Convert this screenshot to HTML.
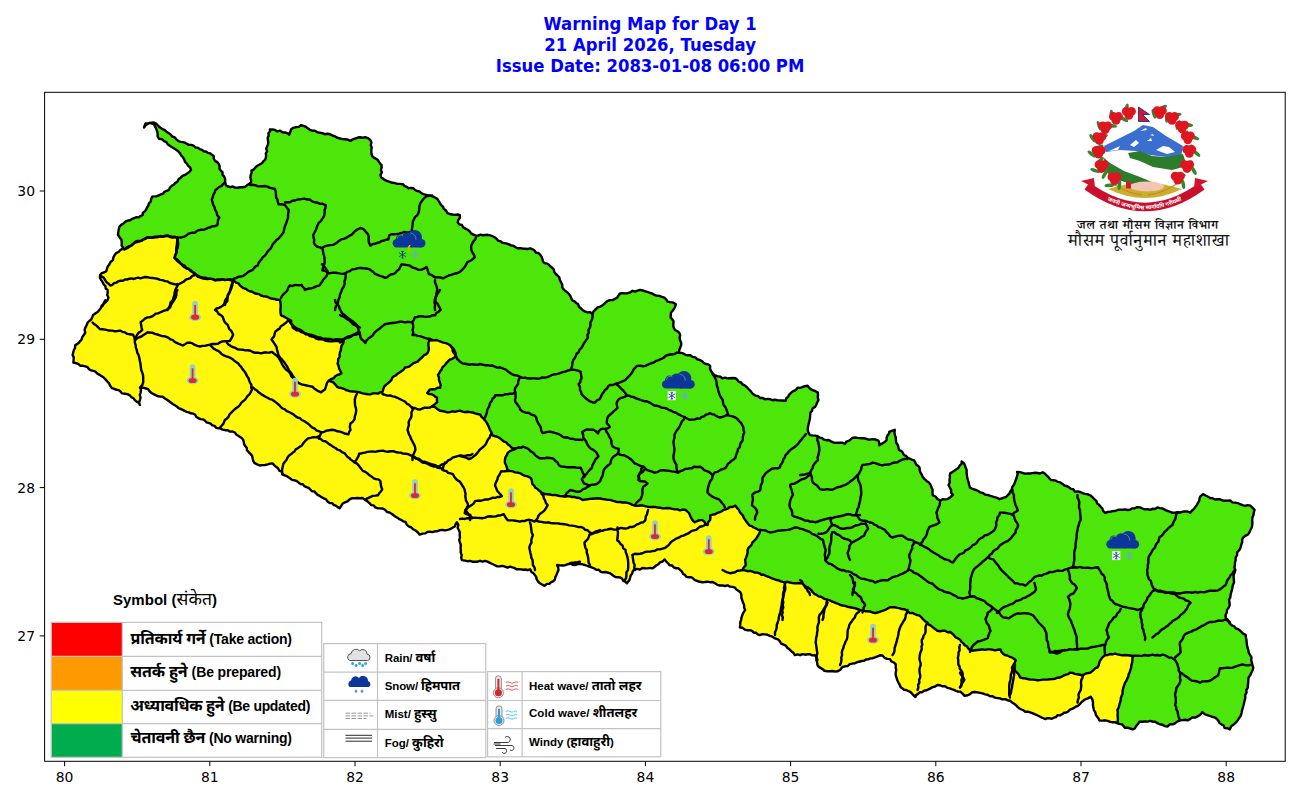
<!DOCTYPE html>
<html><head><meta charset="utf-8">
<style>
html,body{margin:0;padding:0;background:#fff;}
body{width:1300px;height:800px;position:relative;overflow:hidden;}
.ttl{font-family:"DejaVu Sans",sans-serif;font-weight:bold;font-size:16.5px;fill:#0000ff;text-anchor:middle;}
svg{position:absolute;left:0;top:0;}
.tk{font-family:"DejaVu Sans",sans-serif;font-size:13.9px;fill:#000;}
.l1{font-family:"Liberation Sans","Noto Sans Devanagari",sans-serif;font-size:14px;font-weight:bold;fill:#000;}
.l1 .d{font-family:"Noto Sans Devanagari","Liberation Sans",sans-serif;font-size:16px;}
.l2{font-family:"Liberation Sans","Noto Sans Devanagari",sans-serif;font-size:11.5px;font-weight:bold;fill:#000;}
.l2 .d{font-family:"Noto Sans Devanagari","Liberation Sans",sans-serif;font-size:13px;}
.em{font-family:"Noto Serif Devanagari","Tiro Devanagari Hindi","Liberation Serif",serif;fill:#111;}
</style></head>
<body>
<svg width="1300" height="800" viewBox="0 0 1300 800">

<rect x="44.6" y="92.3" width="1240.6" height="669" fill="none" stroke="#000" stroke-width="1"/>
<g class="ttl">
<text transform="translate(650.1,29.75) scale(1,1.08)">Warning Map for Day 1</text>
<text transform="translate(650.1,50.9) scale(1,1.08)">21 April 2026, Tuesday</text>
<text transform="translate(650.1,71.6) scale(1,1.08)">Issue Date: 2083-01-08 06:00 PM</text>
</g>
<line x1="64.6" y1="761.3" x2="64.6" y2="766.2" stroke="#000" stroke-width="1"/>
<text x="64.6" y="782" text-anchor="middle" class="tk">80</text>
<line x1="209.8" y1="761.3" x2="209.8" y2="766.2" stroke="#000" stroke-width="1"/>
<text x="209.8" y="782" text-anchor="middle" class="tk">81</text>
<line x1="355.0" y1="761.3" x2="355.0" y2="766.2" stroke="#000" stroke-width="1"/>
<text x="355.0" y="782" text-anchor="middle" class="tk">82</text>
<line x1="500.2" y1="761.3" x2="500.2" y2="766.2" stroke="#000" stroke-width="1"/>
<text x="500.2" y="782" text-anchor="middle" class="tk">83</text>
<line x1="645.4" y1="761.3" x2="645.4" y2="766.2" stroke="#000" stroke-width="1"/>
<text x="645.4" y="782" text-anchor="middle" class="tk">84</text>
<line x1="790.6" y1="761.3" x2="790.6" y2="766.2" stroke="#000" stroke-width="1"/>
<text x="790.6" y="782" text-anchor="middle" class="tk">85</text>
<line x1="935.8" y1="761.3" x2="935.8" y2="766.2" stroke="#000" stroke-width="1"/>
<text x="935.8" y="782" text-anchor="middle" class="tk">86</text>
<line x1="1081.0" y1="761.3" x2="1081.0" y2="766.2" stroke="#000" stroke-width="1"/>
<text x="1081.0" y="782" text-anchor="middle" class="tk">87</text>
<line x1="1226.2" y1="761.3" x2="1226.2" y2="766.2" stroke="#000" stroke-width="1"/>
<text x="1226.2" y="782" text-anchor="middle" class="tk">88</text>
<line x1="44.6" y1="635.9" x2="39.7" y2="635.9" stroke="#000" stroke-width="1"/>
<text x="35" y="640.9" text-anchor="end" class="tk">27</text>
<line x1="44.6" y1="487.6" x2="39.7" y2="487.6" stroke="#000" stroke-width="1"/>
<text x="35" y="492.6" text-anchor="end" class="tk">28</text>
<line x1="44.6" y1="339.3" x2="39.7" y2="339.3" stroke="#000" stroke-width="1"/>
<text x="35" y="344.3" text-anchor="end" class="tk">29</text>
<line x1="44.6" y1="191.0" x2="39.7" y2="191.0" stroke="#000" stroke-width="1"/>
<text x="35" y="196.0" text-anchor="end" class="tk">30</text>
<polygon points="144.0,127.5 145.5,123.5 150.0,122.0 154.0,122.5 160.0,127.0 166.5,131.5 178.8,140.2 191.0,145.5 201.5,150.8 212.0,154.2 219.0,166.5 224.2,178.8 226.0,185.0 235.0,187.5 245.0,186.0 250.0,182.5 251.0,170.0 260.0,165.0 266.0,160.0 267.5,140.0 270.0,129.0 280.0,131.0 290.0,135.0 291.0,129.0 301.0,125.5 310.0,129.0 322.5,132.5 335.0,136.0 340.0,137.5 350.0,140.0 365.0,137.5 371.0,140.0 372.5,155.0 382.5,165.0 381.0,177.5 390.0,181.0 402.5,185.0 415.0,190.0 427.5,196.0 434.0,196.0 440.0,202.5 447.5,212.5 460.0,215.0 457.5,222.5 467.5,230.0 476.0,235.0 490.0,236.0 502.5,242.5 515.0,247.5 530.0,249.0 540.0,255.0 542.5,262.5 552.5,267.5 560.0,280.0 562.5,287.5 572.5,300.0 582.5,310.0 592.5,314.0 597.5,307.5 605.0,302.5 615.0,299.0 620.0,294.0 632.5,291.0 640.0,290.0 650.0,294.0 662.5,296.0 670.0,302.5 675.0,304.0 671.0,315.0 675.0,330.0 680.0,332.5 681.0,342.5 679.0,352.5 690.0,356.0 700.0,360.0 710.0,366.0 712.5,374.0 722.5,377.5 735.0,379.0 745.0,385.0 752.5,392.5 760.0,397.5 772.5,401.0 785.0,400.0 797.5,387.5 807.5,386.0 817.5,392.5 817.5,402.5 810.0,412.5 807.5,425.0 810.0,435.0 820.0,437.5 832.5,442.5 845.0,444.0 852.5,437.5 865.0,437.5 877.5,441.0 880.0,446.0 886.0,440.0 889.0,431.0 894.0,430.0 896.0,437.5 899.0,450.0 907.5,457.5 915.0,460.0 920.0,470.0 922.5,477.5 930.0,485.0 932.5,492.5 932.5,496.0 940.0,500.0 950.0,497.5 952.5,495.0 949.0,485.0 950.0,472.5 957.5,467.5 962.5,461.0 966.0,467.5 967.5,475.0 970.0,487.5 980.0,492.5 987.5,496.0 1000.0,500.0 1007.5,495.0 1012.5,490.0 1015.0,480.0 1017.5,471.0 1025.0,474.0 1032.5,472.5 1042.5,472.5 1047.5,477.5 1057.5,482.5 1067.5,486.0 1075.0,491.0 1085.0,494.0 1092.5,497.5 1100.0,507.5 1105.0,512.5 1115.0,510.0 1130.0,510.0 1140.0,507.5 1150.0,510.0 1162.5,507.5 1172.5,512.5 1180.0,512.5 1190.0,512.5 1197.5,502.5 1202.5,495.0 1210.0,499.0 1220.0,500.0 1230.0,501.0 1240.0,505.0 1250.0,506.0 1255.0,510.0 1252.5,520.0 1250.0,530.0 1242.5,540.0 1237.5,552.5 1234.0,562.5 1235.0,570.0 1234.0,580.0 1232.5,590.0 1230.0,600.0 1227.5,610.0 1226.0,617.5 1232.5,625.0 1240.0,630.0 1245.0,635.0 1247.5,642.5 1250.0,655.0 1252.5,667.5 1250.0,675.0 1247.5,685.0 1245.0,695.0 1242.5,705.0 1240.0,715.0 1235.0,722.5 1230.0,728.8 1225.0,727.5 1220.0,722.5 1210.0,715.0 1202.5,712.5 1195.0,717.5 1187.5,720.0 1180.0,720.0 1175.0,722.5 1167.5,726.0 1160.0,723.8 1150.0,720.0 1140.0,722.5 1132.5,730.0 1125.0,727.5 1117.5,722.5 1110.0,722.5 1100.0,720.0 1095.0,715.0 1092.5,705.0 1091.0,697.5 1085.0,700.0 1077.5,705.0 1070.0,710.0 1060.0,715.0 1045.0,720.0 1037.5,716.0 1027.5,712.5 1017.5,707.5 1007.5,700.0 997.5,697.5 985.0,695.0 975.0,692.5 965.0,695.0 960.0,692.5 950.0,687.5 940.0,685.0 930.0,687.5 920.0,692.5 915.0,697.5 910.0,692.5 900.0,687.5 897.5,680.0 895.0,665.0 890.0,659.0 882.5,656.0 870.0,657.5 860.0,662.5 850.0,665.0 842.5,667.5 837.5,671.0 825.0,670.0 817.5,665.0 815.0,655.0 805.0,654.0 795.0,655.0 787.5,647.5 777.5,640.0 770.0,635.0 760.0,635.0 750.0,630.0 740.0,627.5 742.5,617.5 745.0,610.0 742.5,602.5 740.0,592.5 735.0,587.5 722.5,585.0 710.0,582.5 695.0,580.0 685.0,575.0 680.0,570.0 670.0,565.0 665.0,560.0 660.0,562.5 652.5,567.5 642.5,569.0 635.0,570.0 630.0,575.0 627.5,582.5 620.0,577.5 605.0,572.5 590.0,567.5 585.0,565.0 570.0,564.0 580.0,562.5 567.5,564.0 557.5,565.0 557.5,572.5 555.0,580.0 545.0,585.0 540.0,582.5 535.0,575.0 530.0,570.0 510.0,567.5 495.0,565.0 490.0,562.5 477.5,561.0 462.5,560.0 460.0,545.0 460.0,535.0 457.5,522.5 455.0,527.5 442.5,530.0 430.0,532.5 420.0,534.0 412.5,530.0 405.0,522.5 395.0,517.5 385.0,510.0 375.0,507.5 367.5,502.5 362.5,499.0 352.5,499.0 345.0,502.5 340.0,507.5 330.0,502.5 320.0,495.0 310.0,490.0 302.5,485.0 292.5,480.0 285.0,475.0 280.0,470.0 272.5,462.5 260.0,465.0 255.0,462.5 247.5,450.0 242.5,437.5 235.0,432.5 222.5,430.0 212.5,425.0 202.5,420.0 195.0,415.0 185.0,410.0 172.5,405.0 162.5,397.5 152.5,392.5 146.0,387.5 140.0,387.5 140.0,395.0 140.0,405.0 135.0,400.0 130.0,395.0 122.5,392.5 112.5,387.5 105.0,380.0 97.5,372.5 87.5,367.5 74.0,362.5 72.5,352.5 75.0,345.0 82.5,340.0 85.0,330.0 87.5,322.5 92.5,317.5 100.0,307.5 105.0,300.0 101.0,307.5 107.5,300.0 107.5,290.0 102.5,282.5 100.0,275.0 104.0,272.5 110.0,265.0 114.0,257.5 120.0,250.0 125.0,249.0 122.5,245.0 119.0,235.0 120.0,227.5 127.5,220.0 142.5,215.0 147.5,205.0 152.5,197.5 165.0,192.5 174.0,185.0 182.5,176.0 191.0,170.0 182.2,157.8 175.2,149.0 166.5,142.0 159.5,138.5 156.0,131.0 153.5,125.0 150.0,123.8 146.0,125.0" fill="#4ce60a" stroke="none"/>
<polygon points="125.0,249.0 135.0,242.5 147.5,237.5 165.0,236.0 177.5,237.5 177.5,245.0 175.0,257.5 182.5,265.0 192.5,272.5 200.0,277.5 215.0,280.0 232.5,280.0 240.0,285.0 247.5,290.6 258.8,294.4 270.0,298.0 279.4,300.0 280.3,307.5 281.2,315.0 290.6,320.6 292.5,328.0 305.6,333.8 318.8,339.4 330.0,341.2 343.0,341.2 339.4,354.4 337.5,363.8 341.2,373.0 330.0,380.6 337.5,386.3 352.5,392.0 371.0,394.7 382.5,392.0 386.0,384.4 395.6,375.0 405.0,367.5 418.0,362.0 427.5,352.5 429.4,341.2 437.0,339.4 446.0,343.0 453.8,349.0 455.6,356.0 447.5,361.0 442.5,367.5 437.5,375.0 440.0,382.5 440.0,387.5 430.0,390.0 427.5,392.5 437.5,397.5 437.5,402.5 432.5,406.0 440.0,410.0 450.0,412.5 460.0,411.0 470.0,412.5 480.0,415.0 485.0,420.0 487.5,425.0 490.0,430.0 492.5,435.0 502.5,440.0 510.0,445.0 515.0,450.0 507.5,452.5 505.0,460.0 507.5,470.0 520.0,474.0 530.0,478.0 535.0,488.0 542.5,493.0 555.0,495.0 567.5,496.0 585.0,500.0 597.5,499.0 610.0,500.0 622.5,502.5 635.0,505.0 647.5,506.0 660.0,507.5 672.5,509.0 685.0,510.0 690.0,515.0 695.0,522.5 702.5,520.0 707.5,525.0 710.0,520.0 710.0,515.0 720.0,512.5 730.0,507.5 735.0,506.0 740.0,512.5 745.0,520.0 750.0,525.0 760.0,530.0 757.5,537.5 752.5,542.5 747.5,550.0 745.0,560.0 745.0,565.0 742.5,570.0 757.5,572.5 770.0,577.5 785.0,582.5 802.5,582.5 812.5,592.5 827.5,600.0 842.5,605.0 855.0,607.5 862.5,610.0 875.0,612.5 890.0,607.5 900.0,607.5 910.0,612.5 920.0,615.0 927.5,622.5 937.5,630.0 950.0,632.5 960.0,640.0 970.0,650.0 982.5,650.0 1000.0,650.0 1005.0,655.0 1015.0,660.0 1012.5,667.5 1020.0,677.5 1030.0,680.0 1045.0,679.0 1060.0,677.5 1070.0,672.5 1082.5,675.0 1090.0,672.5 1097.5,667.5 1102.5,657.5 1105.0,655.0 1115.0,654.0 1125.0,655.0 1132.5,656.0 1130.0,670.0 1125.0,685.0 1120.0,700.0 1117.5,712.5 1117.5,722.5 1110.0,722.5 1100.0,720.0 1095.0,715.0 1092.5,705.0 1091.0,697.5 1085.0,700.0 1077.5,705.0 1070.0,710.0 1060.0,715.0 1045.0,720.0 1037.5,716.0 1027.5,712.5 1017.5,707.5 1007.5,700.0 997.5,697.5 985.0,695.0 975.0,692.5 965.0,695.0 960.0,692.5 950.0,687.5 940.0,685.0 930.0,687.5 920.0,692.5 915.0,697.5 910.0,692.5 900.0,687.5 897.5,680.0 895.0,665.0 890.0,659.0 882.5,656.0 870.0,657.5 860.0,662.5 850.0,665.0 842.5,667.5 837.5,671.0 825.0,670.0 817.5,665.0 815.0,655.0 805.0,654.0 795.0,655.0 787.5,647.5 777.5,640.0 770.0,635.0 760.0,635.0 750.0,630.0 740.0,627.5 742.5,617.5 745.0,610.0 742.5,602.5 740.0,592.5 735.0,587.5 722.5,585.0 710.0,582.5 695.0,580.0 685.0,575.0 680.0,570.0 670.0,565.0 665.0,560.0 660.0,562.5 652.5,567.5 642.5,569.0 635.0,570.0 630.0,575.0 627.5,582.5 620.0,577.5 605.0,572.5 590.0,567.5 585.0,565.0 570.0,564.0 580.0,562.5 567.5,564.0 557.5,565.0 557.5,572.5 555.0,580.0 545.0,585.0 540.0,582.5 535.0,575.0 530.0,570.0 510.0,567.5 495.0,565.0 490.0,562.5 477.5,561.0 462.5,560.0 460.0,545.0 460.0,535.0 457.5,522.5 455.0,527.5 442.5,530.0 430.0,532.5 420.0,534.0 412.5,530.0 405.0,522.5 395.0,517.5 385.0,510.0 375.0,507.5 367.5,502.5 362.5,499.0 352.5,499.0 345.0,502.5 340.0,507.5 330.0,502.5 320.0,495.0 310.0,490.0 302.5,485.0 292.5,480.0 285.0,475.0 280.0,470.0 272.5,462.5 260.0,465.0 255.0,462.5 247.5,450.0 242.5,437.5 235.0,432.5 222.5,430.0 212.5,425.0 202.5,420.0 195.0,415.0 185.0,410.0 172.5,405.0 162.5,397.5 152.5,392.5 146.0,387.5 140.0,387.5 140.0,395.0 140.0,405.0 135.0,400.0 130.0,395.0 122.5,392.5 112.5,387.5 105.0,380.0 97.5,372.5 87.5,367.5 74.0,362.5 72.5,352.5 75.0,345.0 82.5,340.0 85.0,330.0 87.5,322.5 92.5,317.5 100.0,307.5 105.0,300.0 101.0,307.5 107.5,300.0 107.5,290.0 102.5,282.5 100.0,275.0 104.0,272.5 110.0,265.0 114.0,257.5 120.0,250.0" fill="#fff70c" stroke="none"/>
<g fill="none" stroke="#000" stroke-width="2.4" stroke-linejoin="round" stroke-linecap="round">
<polyline points="225.0,182.5 223.1,184.1 221.4,186.1 219.0,187.0 217.2,188.7 215.3,190.1 214.6,192.7 213.2,195.1 212.6,197.7 211.7,199.7 212.6,202.3 213.2,204.9 214.6,207.3 215.2,209.9 216.7,212.3 217.2,215.2 219.3,217.6 218.0,219.9 217.8,222.5 217.5,224.9 215.1,226.1 212.5,226.2 210.1,227.3 207.7,227.9 205.7,229.0 203.6,229.9 201.1,229.7 198.9,230.1 196.8,231.0 195.1,232.8 192.7,232.7 190.5,233.2 188.3,233.9 186.4,235.4 184.5,236.6 182.3,237.2 180.0,237.5"/>
<polyline points="125.0,249.0 127.3,248.2 129.2,246.8 131.3,245.6 133.0,243.7 135.0,242.5 137.2,242.0 139.4,241.4 141.5,240.7 143.4,239.2 145.6,238.9 147.5,237.4 150.0,237.7 152.5,237.4 155.0,236.6 157.5,236.6 160.0,236.4 162.6,236.9 165.0,235.7 167.6,235.6 170.0,237.0 172.4,237.6 175.0,237.1 178.0,237.5 177.7,240.0 178.1,242.5 178.1,245.1 177.7,247.6 176.7,250.0 176.7,252.6 175.2,254.9 174.5,258.0 176.3,259.9 178.2,261.8 180.4,263.3 182.2,265.3 184.1,267.0 186.3,268.3 188.8,269.1 190.5,270.9 192.7,272.2 194.4,273.7 196.3,274.9 197.8,276.8 200.0,277.4 202.4,278.3 204.9,278.8 207.4,279.1 210.1,278.7 212.6,278.9 215.0,280.3 217.5,279.8 220.0,279.4 222.5,279.3 225.0,279.7 227.5,279.9 230.0,279.2 232.5,280.0"/>
<polyline points="232.5,280.0 234.3,278.5 236.5,277.9 238.5,276.8 240.7,276.5 243.0,276.1 244.7,274.7 246.6,273.4 248.4,271.9 250.5,270.9 252.6,269.9 254.1,268.1 255.6,266.3 257.9,265.3 258.6,262.9 260.0,261.1 261.4,259.4 262.6,257.4 264.5,256.0 266.0,254.3 267.2,252.3 268.7,250.3 270.6,248.6 271.8,246.4 272.9,244.1 274.7,242.2 276.4,240.1 278.6,238.6 280.2,236.5 281.8,234.8 283.4,232.5 284.0,229.9 284.6,227.4 285.5,225.0 286.4,222.5 287.2,220.1 288.1,217.6 288.0,215.0 288.4,212.5 288.8,210.2 286.9,207.6 285.0,205.0 282.0,204.3 278.5,204.2 277.8,201.9 277.5,199.5 276.1,197.5 276.0,195.0 275.8,192.0 275.0,189.0 272.5,188.3 269.9,187.9 267.5,186.6 265.0,186.0 262.5,186.2 260.0,186.4 257.5,186.2 255.0,185.1 252.5,184.8 250.0,185.0"/>
<polyline points="285.0,202.5 287.5,202.2 290.1,202.2 292.4,200.7 295.0,200.5 297.5,199.5 300.0,199.4 302.4,198.9 305.0,198.8 307.5,199.5 309.7,199.4 312.1,201.4 315.0,202.3 317.6,202.7 320.0,203.9 322.6,203.8 325.7,205.1 325.5,207.6 324.6,210.0 324.7,212.5 324.3,215.2 323.3,217.4 322.0,219.4 320.6,221.3 318.7,222.9 317.7,225.1 316.8,227.2 316.2,229.3 315.2,231.3 314.2,233.3 313.2,234.8 313.6,237.4 314.2,239.9 313.9,242.6 315.0,244.9 317.3,246.8 320.2,247.4 322.6,249.0 323.0,251.2 323.3,253.5 324.0,255.6 324.5,257.8 324.6,259.9 324.7,262.6 323.9,265.0 323.1,267.5 322.3,270.4 324.9,270.8 327.0,272.0"/>
<polyline points="100.0,275.0 101.8,276.6 103.9,277.8 105.1,279.9 106.3,282.0 108.3,283.4 110.2,285.5 112.3,284.8 114.1,283.1 116.3,282.6 118.3,281.4 120.5,280.7 122.9,280.8 124.9,279.5 127.2,279.5 129.4,278.7 131.6,278.4 133.9,279.0 136.0,278.1 138.2,277.6 140.6,278.3 142.8,277.6 145.1,277.0 147.6,277.2 150.1,277.9 152.6,278.0 155.1,278.4 157.6,278.8 160.0,279.9 162.6,280.1 165.0,281.1 167.6,281.4 169.9,283.0 172.4,283.7 174.9,284.2 177.8,284.7 179.9,283.6 182.0,282.5 184.1,281.4 185.8,279.6 188.1,278.9 190.3,278.1 192.3,275.9 195.0,275.0"/>
<polyline points="177.5,284.0 177.3,286.3 176.1,288.2 175.1,290.2 174.7,292.4 174.3,295.1 173.5,297.7 172.7,300.3 170.7,302.4 170.0,305.1 169.0,307.6 167.5,310.0"/>
<polyline points="232.5,282.5 231.6,284.9 230.9,287.4 230.3,289.9 229.6,292.4 228.5,294.3 227.6,296.4 227.5,298.8 227.3,301.1 225.6,302.8 225.0,305.0"/>
<polyline points="435.0,280.0 435.0,282.6 436.1,285.0 436.9,287.5 437.3,289.9 436.6,292.5 436.3,295.2 435.5,297.7 434.7,299.9 434.5,302.5 435.1,304.9 434.8,307.5 435.0,310.0"/>
<polyline points="817.5,437.5 817.3,440.1 818.3,442.5 818.8,445.0 819.2,447.6 819.4,449.8 818.9,452.4 818.4,454.9 817.6,457.4 817.9,460.2 815.9,461.9 814.4,463.8 813.1,465.9 812.5,468.4 811.1,470.3 810.1,473.1 807.6,473.6 805.2,474.4 802.6,474.7 800.0,475.0"/>
<polyline points="810.0,472.5 811.0,474.9 812.0,477.3 811.9,480.0 812.7,482.2 814.5,484.0 816.7,485.2 818.3,487.1 820.0,489.2 822.5,489.8 825.0,489.5 827.5,489.1 830.0,489.7 832.4,489.7 834.4,488.7 836.4,487.7 838.5,487.0 840.8,486.6 842.9,485.7 845.1,485.1 847.0,483.9 849.0,482.7 850.7,481.1 852.6,479.9 854.3,478.3 855.9,476.7 857.9,475.2 859.2,473.3 860.2,471.3 861.2,469.3 861.6,467.0 862.5,464.9 865.1,464.6 867.6,464.2 870.2,463.9 872.5,462.6 875.1,463.1 877.6,464.0 880.1,464.8 882.3,465.3 884.8,464.7 887.5,464.5 890.1,464.2 892.4,463.0 895.0,462.5 897.6,462.2 899.9,460.8 902.3,459.7 904.8,459.0 907.5,459.0"/>
<polyline points="857.5,475.0 857.9,477.6 858.2,480.2 859.4,482.6 860.4,485.0 860.9,487.5 861.0,490.0 861.3,492.6 861.1,495.1 860.5,497.5 860.2,500.1 859.7,502.4 859.0,504.8 858.7,507.2 857.3,509.3 856.9,511.7 855.9,514.1 857.8,516.6 859.8,519.7 862.3,520.6 865.0,520.7 867.5,521.5 870.0,522.5"/>
<polyline points="870.0,522.5 872.5,522.9 874.3,524.6 876.6,525.3 878.4,527.2 880.8,527.7 882.9,528.9 885.0,530.0 886.5,532.2 888.5,534.0 890.1,536.2 892.5,537.7 894.9,536.6 897.4,536.0 899.9,535.6 902.6,535.7 904.4,537.1 906.3,538.4 908.2,539.6 910.6,539.8 912.9,540.3 915.1,542.2 917.9,543.0 920.3,544.3 922.6,545.8 925.0,547.1 927.4,548.2 929.5,549.6 931.5,551.3 933.8,552.7 936.1,554.0 938.5,555.2 940.3,556.8 942.3,557.7 944.2,559.0 946.4,559.6 948.6,560.1 950.5,561.5 952.6,562.6 954.4,560.7 955.9,558.4 957.6,556.4 959.5,554.4 961.9,553.7 964.0,552.7 965.2,550.5 967.5,549.7 969.4,548.4 971.2,547.0 972.6,545.1 974.7,544.3 976.5,543.0 977.8,541.1 979.2,539.3 981.1,538.1 983.1,537.1 984.6,535.4 987.1,535.0 989.2,533.9 991.1,532.6 993.1,531.3 994.5,529.9 995.6,527.5 996.4,525.1 996.0,522.4 997.2,520.0 997.4,517.4 999.3,515.3 1000.0,512.6 1002.6,512.6 1005.1,512.8 1007.6,513.4 1010.1,513.8 1013.2,514.7 1014.1,516.7 1014.7,518.9 1015.6,521.0 1017.0,522.7 1018.2,525.2 1017.4,527.7 1015.8,530.0 1015.5,532.8 1013.8,534.4 1012.4,536.2 1011.1,538.0 1009.7,539.3 1008.0,541.0 1005.9,541.7 1003.9,542.8 1002.0,544.1 1000.1,545.1 998.7,547.1 997.2,548.9 994.9,549.9 993.1,551.5 991.9,553.6 989.8,554.8 988.6,556.9 986.6,558.3 985.0,560.0"/>
<polyline points="920.0,545.0 921.2,543.1 922.7,541.4 923.5,539.2 925.1,537.6 926.2,535.6 927.0,533.5 927.4,531.2 928.4,529.2 929.6,526.8 932.0,525.9 934.6,525.2 937.0,524.2 939.5,522.4 938.4,520.0 937.3,517.6 937.1,514.9 936.4,512.7 937.4,510.2 938.3,507.6 939.6,505.2 940.0,502.5"/>
<polyline points="985.0,560.0 982.9,561.4 981.2,563.2 979.2,564.8 977.3,566.4 975.5,567.7 973.9,569.5 972.9,571.5 972.1,573.6 971.5,575.8 970.8,577.9 970.6,580.0 970.3,582.5 970.1,585.0 970.3,587.5 970.1,590.0 969.3,592.5 970.0,595.0"/>
<polyline points="1012.5,490.0 1012.5,492.7 1014.0,494.9 1013.9,497.6 1014.3,500.2 1014.9,502.7 1015.5,505.2 1016.8,507.5 1017.9,510.4 1015.9,511.7 1013.8,513.0 1012.5,515.0"/>
<polyline points="850.0,575.0 851.5,576.7 852.7,578.7 852.9,581.0 853.4,583.3 855.0,585.0 853.9,587.4 853.8,590.0 852.6,592.4 852.5,595.0"/>
<polyline points="800.0,580.0 801.9,581.5 802.7,583.6 804.2,585.3 805.1,587.4 806.9,589.0 807.7,591.1 809.3,592.7 810.0,595.0"/>
<polyline points="92.5,322.5 94.4,324.3 96.7,325.8 98.5,327.7 100.0,329.2 102.5,329.3 105.0,329.6 107.5,330.2 110.0,330.5 112.5,330.6 115.0,331.3 117.5,331.0 120.1,330.6 122.5,331.8 125.1,332.4 127.3,333.9 130.0,334.3 133.1,334.7 134.3,337.2 135.0,340.0"/>
<polyline points="135.0,340.0 134.8,342.6 135.7,345.1 135.8,347.6 136.8,350.0 137.2,352.6 138.5,354.9 139.2,357.4 139.7,359.9 140.2,362.4 140.6,364.8 140.9,367.4 141.2,370.0 142.2,372.4 143.0,375.0 143.2,377.5 143.2,380.0 143.2,382.5 142.4,384.9 140.0,387.5"/>
<polyline points="135.0,340.0 135.8,337.3 137.2,334.7 138.6,332.8 140.6,331.4 142.2,330.1 141.6,327.6 141.1,325.1 140.7,322.1 142.9,320.5 144.9,318.6 147.5,317.4 149.8,317.2 151.9,316.5 153.9,315.3 155.6,313.6 158.0,313.4 160.0,312.5 162.0,311.6 164.1,310.7 166.3,310.1 168.2,308.8 170.1,307.6 170.8,305.3 171.9,303.3 173.1,301.5 174.3,299.8 175.7,297.5 176.4,295.0 176.3,292.3 177.5,290.0"/>
<polyline points="135.0,340.0 136.9,338.5 139.0,337.3 141.4,336.5 143.4,335.1 145.5,333.8 147.6,332.2 150.1,332.6 152.6,332.8 155.0,333.9 157.5,334.5 159.9,335.3 162.0,336.1 164.3,336.2 166.5,336.9 168.6,337.8 170.4,339.3 172.6,339.8 174.2,341.5 176.2,342.7 178.2,343.6 180.3,344.4 182.7,345.5 185.0,344.2 187.3,342.8 189.9,342.7 192.5,343.4 194.8,344.9 197.3,345.8 200.1,346.5 202.5,345.9 205.0,345.9 207.5,345.1 209.9,344.7 212.4,343.9 215.1,344.0 217.7,343.9 220.0,342.3 222.4,341.4 224.9,341.1 227.5,341.3 229.9,340.9 231.5,338.1 233.2,334.7 232.2,332.7 231.1,330.7 229.3,329.1 228.5,327.0 227.7,324.9 226.0,323.3 224.4,321.7 223.6,319.5 222.9,317.1 221.0,315.2 218.6,313.9 217.2,311.5 215.0,310.0 216.7,308.5 218.9,307.8 221.0,306.8 223.1,305.4 224.4,303.5 224.9,301.2 225.9,299.1 227.4,297.5 227.9,294.8 229.4,292.6 230.5,290.2 231.5,287.7 232.4,285.2 232.5,282.5"/>
<polyline points="210.0,345.0 211.8,346.7 213.6,348.6 215.7,349.8 218.2,350.8 220.1,352.4 221.8,354.3 223.9,355.4 226.2,356.3 228.6,357.0 230.8,358.1 232.9,359.4 234.5,361.0 236.5,362.2 238.3,363.5 239.6,365.3 241.2,366.9 242.3,368.9 243.8,370.6 245.2,372.4 246.2,374.4 247.2,376.4 248.6,378.2 249.1,380.4 250.0,382.5 251.4,384.8 251.3,387.6 251.9,389.6 250.9,391.9 249.6,394.1 247.7,395.8 246.3,397.9 244.9,399.9 243.0,401.3 241.2,402.9 240.0,405.0 238.3,406.7 236.3,408.0 234.5,409.5 232.8,411.1 231.1,412.8 229.5,414.5 228.5,416.9 226.9,418.6 224.9,419.9 224.0,422.1 223.1,424.2 221.5,425.8 220.0,427.5"/>
<polyline points="290.0,322.5 291.8,324.3 293.6,326.1 295.6,327.6 297.8,328.8 300.2,329.6 302.0,331.0 303.7,332.5 305.8,333.3 307.9,334.3 310.1,334.6 312.6,335.1 315.0,336.1 317.4,337.2 320.0,337.4 322.4,338.4 324.9,338.7 327.5,339.0 330.0,338.9 332.5,339.7 334.9,339.5 337.4,339.1 340.1,339.4 342.6,339.2 345.1,338.7 347.6,337.6 349.8,337.3 351.8,336.1 353.6,334.7 356.0,334.6 358.2,334.0 360.0,332.5"/>
<polyline points="335.0,300.0 335.6,302.4 337.3,304.3 339.0,306.1 339.6,308.6 340.8,310.7 342.0,313.1 343.8,314.5 345.6,315.9 347.4,317.4 349.2,318.8 351.0,320.2 352.9,321.5 354.5,323.0 356.4,324.4 357.8,326.4 360.0,327.5"/>
<polyline points="382.5,394.0 385.0,394.8 387.4,395.6 390.2,395.5 392.7,396.3 395.3,396.9 397.3,397.8 399.3,398.8 401.3,399.8 403.3,400.8 405.4,401.9 406.9,403.8 409.0,404.7 410.6,406.3 412.3,408.2 415.1,408.0 417.5,409.3 419.9,409.6 422.3,408.5 424.8,407.7 427.6,407.8 430.2,407.5 432.5,406.0"/>
<polyline points="412.5,407.5 412.6,410.1 411.4,412.5 411.6,415.1 411.0,417.6 409.6,419.9 408.6,422.3 408.9,425.0 408.1,427.5 407.6,430.0 408.3,432.1 408.9,434.3 410.1,436.2 410.8,438.3 411.8,440.2 413.0,442.5 414.3,444.9 415.1,447.3 415.4,450.1 414.3,452.5 413.2,454.9 412.5,457.3 412.5,460.0"/>
<polyline points="445.0,462.5 443.9,464.9 443.1,467.4 442.5,470.0"/>
<polyline points="340.0,315.0 341.9,316.2 344.0,317.0 345.9,318.2 347.7,319.6 349.5,320.5 351.3,322.4 353.2,324.3 355.8,325.4 357.9,327.4 358.4,329.9 359.2,332.4 360.1,334.8 360.4,337.1 361.5,339.3 363.5,340.7 365.4,342.9 366.6,340.3 368.5,338.5 370.7,337.0 372.8,335.4 374.0,333.2 375.6,331.6 377.4,330.1 379.3,328.9 381.0,327.3 382.8,325.9 384.9,324.3 387.4,323.8 389.9,323.3 392.4,323.0 395.0,322.8 397.5,322.2 400.0,321.8 402.5,321.8 405.0,322.4 407.5,321.8 410.0,322.1 411.8,322.2 413.8,320.0 414.9,317.1 417.2,317.0 419.4,316.2 421.6,316.3 423.9,316.6 426.2,316.9 428.4,316.6 430.6,316.3 432.8,315.1 435.3,315.3 436.3,313.0 438.5,311.9 440.7,309.7 439.7,307.7 438.5,305.7 437.6,303.7 435.8,302.1 435.4,300.2 435.6,297.8 436.5,295.7 437.4,293.7 438.9,292.0 440.0,290.0"/>
<polyline points="357.5,332.5 355.6,333.6 353.6,334.7 351.6,335.6 349.4,336.2 347.1,336.9 345.2,338.1 343.7,339.9 342.2,341.7 340.0,342.5"/>
<polyline points="412.5,322.5 413.1,325.0 413.2,327.5 412.6,330.0 413.2,332.5 412.5,335.0 415.1,334.8 417.5,335.9 420.1,336.1 422.5,337.0 424.9,337.9 427.4,338.7 430.1,338.8 432.5,340.0"/>
<polyline points="450.0,345.0 451.6,346.7 452.5,348.7 452.7,351.1 453.9,353.0 455.2,354.8 456.4,356.8 457.2,359.0 458.9,360.5 460.2,361.8 462.4,363.4 465.0,363.8 467.5,364.3 470.0,364.7 472.4,364.2 475.0,364.7 477.6,364.8 480.0,364.0 482.5,364.6 484.9,365.2 487.5,365.1 489.8,365.7 492.5,365.5 494.9,366.7 497.3,367.6 500.0,367.5 502.1,368.2 504.2,369.0 506.3,369.8 508.0,371.5 509.9,372.8 511.7,374.0 513.8,375.0 516.0,375.4 518.3,375.9 520.1,376.8 522.5,377.9 525.1,377.6 527.5,378.3 530.0,378.5 532.5,378.4 535.0,378.4 537.5,378.8 539.8,378.4 542.3,377.5 545.0,377.6 547.6,377.1 550.0,376.0 552.4,374.8 555.0,374.2 557.7,373.9 560.2,373.2 562.6,372.2 565.1,371.6 567.5,370.6 570.0,370.0"/>
<polyline points="520.0,377.5 518.9,379.5 518.1,381.6 518.1,384.0 516.7,385.9 515.4,387.7 514.7,390.0 515.4,392.5 515.5,395.0 515.7,397.5 514.9,400.0 515.6,402.2 517.1,404.0 518.3,405.8 519.7,407.7 520.2,409.5 522.0,411.1 524.1,412.0 526.2,412.9 528.6,412.8 530.5,414.1 532.6,415.0 534.3,415.3 536.0,417.0 536.5,419.2 537.3,421.3 538.3,423.3 539.5,425.2 540.8,427.5 541.1,430.2 542.5,433.0 545.0,432.5 547.5,431.9 550.0,431.8 552.6,432.2 554.8,432.9 556.9,433.5 559.0,434.3 561.0,435.4 562.8,436.9 565.0,437.6 567.3,437.3 569.3,438.3 571.5,438.8 573.7,439.0 575.8,439.8 578.1,439.6 580.3,439.7 582.5,440.0"/>
<polyline points="515.0,392.5 512.7,393.8 510.0,393.8 507.5,394.2 505.0,394.3 502.5,395.3 500.0,395.3 497.5,395.3 495.2,395.2 494.4,397.3 492.5,398.7 491.8,401.0 490.2,402.6 489.5,405.1 488.6,407.6 487.2,409.9 486.9,412.6 486.0,415.0 485.0,417.5"/>
<polyline points="530.0,522.5 530.8,524.9 531.0,527.5 531.4,530.0 531.7,532.6 532.9,535.1 532.0,537.5 531.3,540.0 531.5,542.6 530.1,544.9 529.3,547.6 529.8,550.1 530.3,552.6 531.0,555.1 531.3,557.6 532.5,560.0 532.8,562.6 533.0,565.2 534.5,567.5 535.0,570.0"/>
<polyline points="600.0,530.0 597.9,530.8 595.7,531.3 594.0,533.1 592.0,534.0 589.5,534.7 588.8,536.9 587.9,539.0 586.2,540.6 584.5,542.6 584.8,545.1 585.3,547.6 586.8,549.9 586.7,552.6 587.6,555.0 588.1,557.5 588.4,560.1 588.6,562.7 590.0,565.0"/>
<polyline points="617.5,527.5 617.4,530.0 618.0,532.5 617.8,535.0 617.6,537.5 617.2,540.2 619.2,541.8 620.6,544.0 622.6,545.6 623.2,548.2 625.5,549.9 625.8,552.4 626.8,554.9 627.5,557.3 628.0,560.0 628.2,562.5 628.2,565.0 628.2,567.5 627.9,570.1 626.4,572.4 626.4,575.0 626.2,577.6 625.0,580.0"/>
<polyline points="632.5,555.0 634.8,553.7 637.6,554.0 640.1,553.7 642.6,553.2 645.0,552.0 647.5,551.6 650.0,551.6 652.5,551.1 655.1,550.7 657.4,549.4 660.1,549.4 662.6,548.6 665.2,547.8 667.2,546.3 669.1,544.6 670.6,542.5 672.5,540.9 674.8,539.5 676.8,538.3 679.1,537.5 681.1,536.2 683.5,535.6 685.6,534.5 687.9,533.7 689.9,532.2 691.7,530.9 693.9,530.4 696.2,529.9 697.9,528.3 699.7,526.8 702.5,526.3 705.0,525.0"/>
<polyline points="632.5,555.0 632.8,557.6 633.2,560.1 633.6,562.7 634.7,565.0 634.2,567.5 635.0,570.0"/>
<polyline points="722.5,570.0 724.9,571.3 727.3,572.3 730.1,573.2 732.6,572.7 735.1,572.2 737.4,570.7 740.0,570.5 742.5,570.0"/>
<polyline points="785.0,582.5 784.8,585.0 785.3,587.6 785.1,590.1 784.1,592.5 783.8,595.0 783.0,597.4 782.8,599.9 783.3,602.5 782.7,605.0 783.3,607.6 782.2,610.0 782.7,612.5 781.9,615.0 782.8,617.5 782.5,620.0"/>
<polyline points="827.5,600.0 826.5,602.4 826.6,605.1 825.3,607.4 824.4,609.8 824.0,612.4 823.5,614.9 823.4,617.6 822.5,620.0"/>
<polyline points="727.5,415.0 730.1,415.8 732.7,416.4 735.3,417.6 737.5,419.1 739.2,421.1 741.1,422.9 742.3,425.3 743.4,427.6 743.6,430.3 744.3,432.2 743.5,434.3 742.9,436.5 742.8,438.9 742.3,441.1 740.7,442.9 740.1,445.1 739.7,447.3 738.0,449.0 737.7,451.3 736.7,453.3 736.0,455.5 735.4,457.9 733.7,459.5 731.6,460.7 729.9,462.4 727.9,463.7 726.9,466.1 725.3,468.2 723.2,469.0 721.0,469.6 719.1,470.7 717.2,471.9 714.8,472.4 713.4,474.2 712.5,476.2 712.2,478.6 710.8,480.4 709.7,482.4 708.9,484.9 708.1,487.3 707.7,489.9 707.5,492.6 709.1,494.2 710.8,495.6 712.7,496.9 714.8,497.8 717.0,498.6 719.1,499.5 720.7,501.2 721.9,502.8 723.8,505.0 725.0,507.5"/>
<polyline points="806.0,434.0 804.4,436.0 802.6,438.0 801.1,440.1 799.5,441.9 798.1,443.9 796.5,445.6 794.6,446.9 792.5,448.4 790.5,449.9 788.7,451.6 787.1,453.7 785.5,455.2 784.8,457.4 783.3,459.2 782.9,461.4 781.8,463.4 780.3,465.2 780.0,467.3 777.6,468.4 774.9,468.3 772.3,468.6 770.1,470.1 767.8,471.6 765.7,473.2 764.2,475.5 762.6,477.5 762.5,480.1 762.2,482.6 761.0,485.0 760.6,487.5 760.2,490.3 758.3,491.6 756.0,492.2 754.0,493.1 752.2,495.0 752.7,497.5 753.0,500.0 752.3,502.5 751.9,505.4 753.8,506.8 755.5,508.4 756.7,510.3 757.3,512.4 756.1,514.8 755.1,517.3 755.0,520.0"/>
<polyline points="810.0,475.0 808.1,476.1 806.3,477.7 804.3,478.7 802.1,479.1 800.1,480.2 798.3,481.6 796.3,482.6 794.3,483.7 792.0,483.9 790.1,485.0 790.6,487.5 791.7,489.9 792.1,492.4 793.0,495.1 791.5,497.4 790.5,499.8 789.9,502.3 789.5,505.1 790.0,507.7 791.5,509.9 792.2,512.4 792.3,515.3 794.2,516.6 796.5,517.1 798.6,517.9 800.8,518.5 802.6,519.3 805.0,520.6 807.6,520.6 810.0,521.7 812.6,521.6 814.9,522.2 817.5,521.8 819.9,520.7 822.4,520.0 824.8,519.3 827.3,518.6 829.8,518.0 832.5,518.2 834.9,517.1 837.4,516.7 839.9,516.2 842.5,515.8 844.9,515.0 847.5,514.2 850.0,514.2 852.5,515.3 855.0,515.3 857.5,515.1 860.0,515.0"/>
<polyline points="785.0,582.5 784.9,585.1 784.0,587.5 784.2,590.1 783.4,592.5 783.0,595.0 783.2,597.6 782.4,600.1 781.9,602.6 781.7,605.1 781.1,607.6 780.7,610.1 780.3,612.6 779.4,615.0 778.8,617.5 778.5,620.0 777.7,622.5 776.8,624.8 776.7,627.5 776.1,630.0 775.0,632.3 775.0,635.0"/>
<polyline points="827.5,602.5 826.6,604.8 825.2,606.8 823.9,608.8 822.8,611.0 821.3,613.0 819.6,614.9 818.8,617.4 818.9,620.0 818.9,622.5 818.0,624.9 817.4,627.4 817.6,630.0 817.1,632.5 816.9,635.1 816.2,637.5 816.0,640.1 815.7,642.4 816.1,644.6 816.4,646.8 816.7,649.0 817.0,651.1 817.3,653.3 816.6,655.7 816.7,657.9 817.5,660.0"/>
<polyline points="860.0,610.0 858.9,612.0 856.8,613.3 855.6,615.2 854.8,617.5 853.2,619.2 852.0,621.2 850.7,622.6 849.3,625.0 848.8,627.5 847.8,629.9 847.6,632.4 847.5,635.0 847.3,637.3 846.8,639.5 845.6,641.5 844.8,643.7 843.8,645.8 843.4,648.0 842.4,650.1 841.8,652.4 842.1,655.0 841.3,657.5 841.5,660.1 841.0,662.6 840.0,665.0"/>
<polyline points="907.5,610.0 907.2,612.4 905.9,614.5 905.6,616.9 904.9,619.2 903.5,621.2 902.3,623.3 901.1,625.3 900.1,627.5 899.3,629.8 898.6,632.1 898.4,634.5 897.9,636.8 897.2,639.1 896.7,641.4 896.0,643.7 895.3,645.9 894.6,648.2 894.5,650.7 893.9,652.9 892.5,655.0"/>
<polyline points="927.5,622.5 926.5,624.6 925.5,626.7 925.6,629.1 925.6,631.4 925.1,633.6 923.6,635.6 923.1,637.8 921.8,639.9 921.8,642.2 922.3,644.5 921.5,646.6 921.8,648.9 921.1,651.1 920.1,653.2 919.8,655.5 919.5,657.7 919.6,660.0 920.4,662.5 920.7,665.0 919.8,667.5 919.5,670.0 919.6,672.5 920.2,675.0 920.2,677.5 919.1,679.9 919.4,682.6 918.1,684.9 918.4,687.6 917.5,690.0"/>
<polyline points="960.0,645.0 959.3,647.4 959.7,650.1 958.5,652.5 958.5,655.0 957.9,657.5 958.2,659.8 958.3,662.1 958.3,664.5 959.6,666.5 959.8,668.7 961.3,670.6 962.5,672.6 962.7,675.0 962.4,677.6 961.4,680.0 961.6,682.6 961.2,685.1 960.0,687.5"/>
<polyline points="1015.0,665.0 1014.9,667.5 1014.3,670.0 1014.2,672.6 1014.1,675.1 1013.7,677.6 1013.2,680.1 1012.8,682.6 1012.2,685.1 1012.0,687.6 1011.3,690.1 1011.0,692.6 1010.0,695.0"/>
<polyline points="855.0,582.5 854.8,585.2 854.0,587.7 852.8,589.7 854.3,591.9 856.6,593.4 858.2,595.5 860.6,597.1 861.6,599.1 862.3,601.4 864.0,602.9 865.2,605.1 863.7,607.4 863.4,610.0 862.5,612.5"/>
<polyline points="1077.5,495.0 1077.5,497.6 1078.7,499.9 1079.3,502.4 1079.1,505.0 1079.0,507.6 1080.0,510.0 1080.1,512.5 1080.3,515.0 1080.6,517.5 1080.6,520.1 1079.3,522.5 1078.8,525.0 1077.9,527.4 1077.6,529.9 1077.0,532.4 1076.6,534.9 1076.7,537.5 1076.1,540.0 1075.8,542.6 1075.6,545.0 1075.6,547.5 1074.7,550.0 1074.2,552.5 1074.2,555.0 1074.3,557.3 1074.3,560.0 1073.9,562.5 1073.5,565.1 1072.5,567.5"/>
<polyline points="988.0,557.5 990.8,558.9 993.4,559.4 994.9,561.6 996.6,563.6 998.3,565.5 999.6,567.9 1001.3,569.9 1003.2,571.8 1005.1,573.7 1007.0,575.5 1008.8,577.4 1010.8,579.2 1012.8,580.9 1014.8,583.2 1017.4,583.4 1019.8,584.4 1022.5,584.4 1025.4,585.6 1027.4,584.1 1029.0,582.0 1031.2,580.7 1032.9,578.9 1034.8,576.8 1036.9,576.1 1039.1,575.5 1041.5,575.7 1043.5,574.4 1045.7,573.9 1047.8,573.1 1049.9,571.9 1052.5,572.1 1055.0,571.4 1057.4,570.5 1060.0,570.9 1062.6,570.8 1064.9,569.6 1067.4,568.9 1069.9,567.9 1072.5,567.5 1075.0,567.2 1077.5,567.6 1080.0,566.9 1082.5,567.8 1085.0,567.9 1087.5,567.6 1090.0,568.0 1092.5,568.1 1095.0,567.6 1098.0,567.2 1099.1,569.4 1100.6,571.4 1101.6,573.8 1103.7,575.3 1104.7,577.6 1104.8,580.1 1106.1,582.5 1106.9,584.9 1107.0,587.5 1107.8,589.9 1108.3,592.4 1108.8,595.0 1109.6,597.5 1110.4,599.4 1112.3,600.7 1113.7,602.6 1115.4,604.2 1117.6,604.7 1120.0,605.6 1122.4,606.6 1124.9,607.0 1127.4,607.7 1129.8,608.1 1132.4,608.6 1135.0,609.2 1137.6,610.1 1140.1,609.0 1143.2,607.8 1143.5,605.5 1144.3,603.4 1145.9,601.7 1147.0,599.7 1147.5,597.5 1149.4,595.7 1150.8,593.3 1152.6,591.3 1155.2,589.3 1157.5,590.5 1160.1,590.7 1162.6,591.4 1165.1,592.0 1167.5,592.7 1170.1,592.4 1172.6,592.5 1175.1,592.8 1177.5,593.3 1179.9,593.5 1182.4,592.9 1184.9,592.5 1187.4,592.1 1190.0,592.4 1192.5,592.8 1195.0,591.9 1197.5,592.7 1200.0,592.0 1202.5,592.1 1204.9,592.2 1207.4,591.3 1209.9,590.8 1212.5,590.8 1215.0,590.7 1217.8,590.4 1219.8,589.4 1221.7,588.1 1223.3,586.5 1225.4,585.2 1226.4,583.2 1226.9,580.9 1228.3,579.1 1229.7,577.3 1230.4,575.4 1232.2,573.9 1233.4,571.7 1235.0,570.0"/>
<polyline points="1177.5,512.5 1176.2,514.4 1175.8,516.7 1175.3,518.9 1174.2,520.9 1173.2,522.9 1172.5,525.0 1170.3,526.5 1168.3,528.3 1166.6,530.3 1164.5,532.0 1163.1,534.0 1161.7,535.8 1159.4,537.2 1158.9,539.4 1158.4,541.7 1156.8,543.4 1155.6,545.3 1155.0,547.5 1153.4,549.1 1152.1,551.0 1151.1,553.0 1149.8,555.0 1148.6,557.3 1148.3,559.9 1148.4,562.6 1147.8,565.0 1147.9,567.5 1147.1,570.0 1147.3,572.5 1147.6,575.0 1148.2,577.2 1149.0,579.3 1150.8,580.9 1151.4,583.0 1151.9,585.3 1153.3,587.7 1155.0,590.0"/>
<polyline points="1142.5,607.5 1142.0,610.1 1140.4,612.4 1140.4,614.9 1140.7,617.5 1141.6,619.9 1141.7,622.5 1142.3,624.9 1142.1,627.6 1143.4,629.9 1143.8,632.4 1144.5,634.9 1145.2,637.4 1145.0,640.0"/>
<polyline points="1155.0,590.0 1157.1,591.1 1159.3,591.6 1161.7,591.7 1163.9,592.3 1166.1,592.7 1168.5,592.7 1170.7,593.3 1173.0,593.7 1175.3,594.3 1177.2,596.0 1179.1,597.5 1181.5,598.1 1183.9,598.6 1185.7,600.5 1188.1,600.9 1190.6,602.8 1188.9,604.4 1187.8,606.4 1187.0,608.5 1185.6,610.3 1184.5,611.9 1182.6,613.5 1180.5,614.9 1179.1,617.1 1177.0,618.5 1174.8,619.8 1172.8,620.9 1171.2,622.6 1169.4,624.0 1167.9,625.8 1165.9,626.9 1164.1,628.4 1162.0,629.4 1160.2,631.1 1158.6,633.1 1156.3,634.2 1154.4,635.9 1152.5,637.5"/>
<polyline points="1082.5,675.0 1082.6,677.6 1081.3,679.9 1081.0,682.5 1081.2,685.1 1081.1,687.6 1080.7,690.1 1079.3,692.5 1078.4,694.9 1078.9,697.6 1077.9,700.0 1077.5,702.5"/>
<polyline points="1012.5,667.5 1012.3,670.1 1011.7,672.5 1010.8,675.0 1010.7,677.5 1010.4,680.0 1009.6,682.5 1009.3,685.0 1009.2,687.5 1009.2,690.0 1009.2,692.5 1009.2,695.0 1010.0,697.5"/>
<polyline points="960.0,672.5 960.9,674.6 962.6,676.2 963.5,678.3 964.4,679.6 963.3,681.6 962.0,683.4 961.4,685.7 960.0,687.5"/>
<polyline points="1132.5,656.0 1135.0,655.8 1137.5,655.7 1140.0,655.9 1142.5,655.7 1145.0,655.0 1147.5,655.7 1150.0,655.3 1152.5,654.6 1155.0,655.3 1157.5,655.0 1160.0,655.7 1162.5,654.7 1164.9,655.2 1166.8,656.3 1168.8,657.5 1171.2,657.6 1173.1,658.8 1175.1,660.0 1176.2,661.9 1177.4,663.9 1177.8,666.1 1178.7,668.2 1178.7,670.6 1180.1,672.5 1180.2,675.0 1179.9,677.5 1180.5,680.2 1179.9,682.4 1179.0,684.4 1177.6,686.3 1176.3,688.2 1176.2,690.5 1175.5,692.5 1175.0,695.0 1175.7,697.5 1175.8,700.0 1175.8,702.5 1175.1,705.0 1176.2,707.0 1176.3,709.3 1177.6,711.3 1177.9,713.6 1178.3,715.8 1179.0,718.0 1180.0,720.0"/>
<polyline points="1180.0,672.5 1182.3,673.6 1184.2,675.2 1186.3,676.6 1188.3,678.0 1190.1,679.5 1192.4,680.9 1195.1,681.0 1197.6,681.6 1200.1,682.7 1202.4,681.4 1205.0,681.4 1207.7,681.3 1210.3,680.5 1212.3,679.4 1214.0,677.9 1216.0,676.8 1218.2,675.2 1218.9,672.7 1219.4,670.1 1220.0,668.2 1222.5,668.2 1225.0,667.9 1227.5,667.6 1230.1,667.9 1232.7,667.6 1235.1,666.7 1237.6,665.8 1240.0,665.1 1242.5,664.4 1245.0,665.1 1247.5,665.4 1250.0,665.0"/>
<polyline points="1175.0,657.5 1176.8,656.0 1178.6,654.5 1180.7,652.5 1180.3,650.0 1180.3,647.5 1179.8,645.0 1180.0,642.5 1181.4,640.7 1182.7,638.9 1183.5,636.7 1184.8,634.5 1186.8,633.3 1189.0,632.3 1191.3,631.6 1193.4,630.4 1195.7,629.7 1197.8,628.4 1199.9,627.4 1201.8,626.0 1203.9,625.3 1205.8,624.0 1207.7,622.9 1209.9,622.0 1212.5,622.0 1215.0,621.6 1217.4,620.8 1220.0,620.7 1222.5,620.6 1225.1,619.7 1227.8,620.6 1230.0,622.5"/>
<polyline points="1105.0,645.0 1102.4,644.9 1100.0,645.8 1097.5,646.1 1095.0,646.6 1092.5,647.0 1090.0,647.7 1087.6,648.6 1085.0,648.6 1082.5,648.8 1079.9,648.8 1077.5,649.6 1075.0,649.2 1072.5,649.6 1070.0,649.2 1067.5,650.0 1065.0,650.3 1062.5,650.2 1060.0,650.8 1057.5,651.1 1054.9,651.0 1052.5,652.2 1050.0,652.5"/>
<polyline points="322.0,247.7 324.6,246.4 327.3,245.7 330.1,245.1 333.1,244.9 335.6,243.5 337.5,242.2 339.3,240.7 341.2,239.4 343.5,238.9 345.7,238.1 347.7,236.9 349.7,235.6 351.8,234.6 353.4,232.9 354.9,231.1 357.7,229.4 360.4,228.0 362.7,228.6 364.4,230.0 366.0,232.1 367.9,234.1 368.8,236.7 368.6,239.6 368.9,242.4 370.4,245.7 372.4,244.1 375.0,243.8 377.2,242.9 379.4,242.4 381.4,241.0 383.6,240.8 385.7,239.7 388.4,239.6 389.3,235.3 391.5,234.2 393.8,234.2 396.2,234.1 399.0,233.7 401.7,233.0 404.5,231.9 407.2,232.6 410.0,231.8 412.4,232.6 411.9,229.9 412.2,227.1 412.6,224.4 412.9,221.5 414.1,219.0 415.2,216.9 417.1,215.5 418.3,213.4 419.0,211.2 419.2,208.8 419.4,206.4 420.3,203.4 422.1,200.8 423.9,198.4 426.4,196.4 429.1,195.8 432.0,195.5"/>
<polyline points="322.0,264.2 323.6,265.8 325.2,267.5 326.4,269.6 327.5,272.9 330.2,273.2 333.0,272.6 335.7,272.7 338.1,273.1 340.5,273.6 342.9,273.9 345.2,273.5 347.3,271.8 349.9,271.1 352.1,269.4 355.0,269.1 357.6,268.1 360.5,268.0 363.3,268.3 366.1,268.5 369.1,269.1 371.2,270.4 373.2,272.0 374.9,273.9 377.2,274.6 379.8,275.8 382.6,276.6 385.2,277.9 387.4,277.2 389.1,275.5 391.1,274.3 393.6,274.0 395.5,272.7 397.0,270.8 398.9,269.6 400.1,267.2 401.8,264.2 404.5,264.6 407.3,265.1 410.0,265.7 412.5,267.5 415.5,268.3 418.1,269.7 421.1,269.9 423.9,268.7 426.5,267.0 427.5,269.2 428.1,271.6 428.9,274.2 431.3,274.9 433.3,276.0 434.7,277.3 437.5,277.3 440.2,277.5 443.1,278.4 445.7,277.0 448.3,275.7 451.1,274.9 453.3,274.1 455.5,273.5 457.8,273.0 459.5,272.1 461.5,270.5 463.2,268.6 464.9,266.8 466.1,264.6 467.3,262.2 469.8,261.0 472.2,259.7 474.7,257.3 474.0,254.8 472.4,252.5 471.4,250.1 471.1,247.5 471.4,245.2 472.4,243.2 473.5,241.3 475.1,239.6 476.0,237.5"/>
<polyline points="345.4,273.8 345.8,276.3 345.4,278.8 344.5,281.1 344.7,283.7 343.8,286.5 342.2,289.0 341.3,291.7 340.0,294.4 339.6,297.3 338.3,299.9 338.0,302.6 336.8,305.0 335.5,307.4 335.0,310.0"/>
<polyline points="592.5,314.0 592.6,316.3 592.2,318.6 591.6,320.7 590.3,322.7 590.5,325.1 589.9,327.6 588.5,329.9 588.8,332.6 587.5,334.9 587.8,337.7 586.4,339.7 585.1,341.7 583.6,343.7 582.7,345.9 581.4,348.0 579.6,349.7 578.7,352.2 576.6,353.7 575.8,356.2 574.5,358.4 573.2,360.1 572.5,362.5 572.2,364.9 571.7,367.4 571.0,369.8"/>
<polyline points="571.0,369.8 573.4,369.7 575.7,370.2 577.9,370.7 580.7,371.8 581.1,374.9 581.6,378.1 580.6,380.1 580.2,382.3 578.5,384.0 579.9,386.8 580.0,390.0 581.1,391.9 581.6,394.2 583.2,395.8 585.5,398.0 587.7,399.8 590.0,401.4 592.4,402.2 594.9,402.7 596.9,400.4 599.7,399.2 600.9,396.7 602.0,394.2 603.7,392.0 605.2,389.7 607.2,388.4 608.1,386.2 610.0,384.9 613.1,385.0 615.9,383.7 618.3,383.0 620.7,382.1 623.0,381.2 625.5,380.0 627.3,377.8 629.3,375.8 631.3,373.7 632.6,371.7 633.6,369.4 635.3,367.7 637.0,365.9 640.0,365.7 643.1,366.2 645.5,365.9 647.6,364.9 649.8,363.8 652.0,363.0 654.2,362.3 656.0,360.9 658.2,360.4 660.2,359.4 662.3,358.5 664.2,357.4 665.8,355.6 668.0,355.0 670.1,354.5 672.3,354.2 674.6,354.0 676.7,352.8 679.0,352.5"/>
<polyline points="616.0,384.0 618.0,385.4 619.8,387.2 621.4,388.9 623.6,390.9 625.5,393.2 626.6,395.3 628.9,395.6 631.0,396.6 633.3,396.9 635.3,398.0 637.6,398.8 639.8,399.6 642.0,400.5 644.2,401.2 646.7,401.3 648.8,402.1 650.8,403.3 652.7,404.5 654.8,405.7 657.2,405.8 659.5,406.5 661.6,407.8 664.1,407.9 666.6,408.5 668.7,409.8 671.1,410.7 673.2,411.8 675.5,412.5 677.6,413.8 679.7,414.8 681.7,416.0 684.3,417.0 686.6,418.2 689.4,419.7 692.4,419.6 695.0,419.4 697.4,418.4 700.0,418.6 701.7,416.8 704.1,416.3 705.9,414.7 708.3,414.2 709.8,412.9 711.7,414.1 714.0,414.4 715.9,415.7 717.8,416.8 720.0,417.5 722.5,416.8 725.0,415.9 728.0,414.8 727.4,412.3 726.5,409.8 725.5,407.3 723.7,405.1 723.0,402.5 722.7,399.7 721.0,397.5 719.8,395.2 718.9,392.7 718.2,390.2 717.7,387.6 716.8,385.3 716.6,382.7 716.1,380.3 715.2,378.1 714.0,376.0 712.5,374.0"/>
<polyline points="626.5,396.0 624.0,397.1 621.4,397.8 619.0,399.0 617.4,401.2 616.6,403.3 617.0,405.7 617.5,408.0 615.5,409.9 613.6,411.4 611.9,413.3 609.7,414.8 607.8,416.8 607.0,419.8 606.8,423.1 608.6,425.2 609.8,427.0 607.8,428.3 605.5,428.9 603.2,428.6 601.1,429.1 599.0,430.9 598.0,433.5 596.1,431.4 593.6,429.8 590.6,429.7 587.3,429.4 584.9,430.2 582.2,432.0 583.2,435.0 583.3,437.8 585.1,439.8 586.5,442.2 587.5,444.7 589.1,446.9 591.1,448.8 593.6,450.1 596.0,451.9 597.1,453.8 598.4,456.4 596.7,458.1 595.1,459.9 594.3,462.2 592.5,465.1 591.7,468.3 589.8,469.8 588.2,471.6 586.8,473.6 585.1,475.3 583.1,477.0 581.8,479.4 584.0,483.5 586.7,484.3 589.6,485.9 587.1,487.1 585.3,488.5 583.2,489.1 581.3,490.7 579.3,491.8 577.0,491.8 573.9,490.8 570.4,490.0 568.4,491.7 566.4,493.5 564.6,496.6"/>
<polyline points="605.5,429.0 606.1,431.2 607.4,433.0 608.6,435.0 609.4,437.1 610.7,438.9 611.4,441.0 611.4,443.6 612.5,446.2 614.4,447.5 616.4,448.4 618.7,448.6 618.7,451.2 617.9,454.0 615.6,455.3 613.4,456.8 611.9,458.6 610.8,460.9 610.4,463.6 607.9,465.5 605.9,467.3 604.1,469.5 603.2,472.1 602.8,475.2 601.3,478.1 600.4,480.7 598.9,482.6 596.7,484.1 594.2,484.5 591.6,484.8 589.2,485.5"/>
<polyline points="617.5,453.5 619.6,454.5 621.9,455.1 624.3,455.3 626.4,456.3 628.3,457.5 630.7,459.2 632.8,461.2 634.7,463.5 637.0,464.2 639.0,465.3 641.3,466.1 643.8,466.6 645.4,468.7 647.2,470.1 649.7,470.9 652.2,471.7 654.3,472.6 657.6,472.1 660.6,470.2 663.5,470.2 666.3,470.6 669.2,470.8 672.0,471.4 674.9,471.8 678.0,472.7 680.3,471.2 682.7,470.4 685.0,468.9 687.4,468.9 689.5,468.3 691.9,468.3 693.8,466.8 696.9,467.0 700.2,466.7 702.3,468.1 703.9,470.1 706.3,470.9 708.7,471.8 710.7,473.3 712.5,475.0"/>
<polyline points="644.6,469.5 642.8,471.8 640.4,473.5 638.1,475.8 639.2,478.1 639.6,481.0 642.2,481.3 644.8,481.5 647.5,483.5 645.5,485.2 643.2,486.8 642.4,489.8 642.5,493.1 641.9,496.1 640.8,498.8 638.8,500.6 636.8,502.4 635.0,505.0"/>
<polyline points="685.0,417.0 683.9,419.5 681.9,421.4 680.8,424.0 679.7,426.3 678.4,428.5 676.8,430.5 675.5,432.7 674.4,435.0 674.6,437.3 673.9,439.5 673.5,441.8 673.7,443.9 674.1,446.7 674.4,449.4 674.2,452.3 673.5,455.4 673.5,458.8 674.7,461.8 676.4,464.6 676.4,467.2 676.8,469.7 678.0,472.0"/>
<polyline points="643.0,466.5 641.4,468.7 641.0,471.5 639.3,473.8 638.7,476.9 638.5,480.0"/>
<polyline points="514.0,448.5 516.3,448.3 518.5,447.5 520.8,447.8 523.1,446.7 526.0,447.9 528.5,449.0 530.7,451.3 533.5,453.0 535.1,455.1 537.0,456.6 539.5,458.2 542.0,458.2 544.5,458.2 546.9,457.8 550.1,458.0 553.4,458.6 555.2,460.8 557.5,462.5 558.9,465.2 561.0,466.4 563.5,466.6 565.8,467.0 568.0,467.3 570.4,467.2 572.8,467.2 575.2,467.3 577.6,467.9 580.6,467.6 581.8,470.1 582.7,472.6 583.9,474.7 584.3,477.0"/>
<polyline points="491.5,433.5 490.3,435.4 489.7,437.6 488.1,439.3 486.8,441.9 485.6,444.5 483.7,446.5 481.6,448.2 479.5,450.0 477.6,452.6 475.4,455.1 473.4,456.6 471.4,458.1 469.0,459.1 466.1,457.7 463.3,456.8 460.0,456.0"/>
<polyline points="509.5,471.0 507.2,471.0 505.0,471.2 502.8,471.4 501.2,471.3 500.2,473.3 499.1,475.3 497.9,477.1 497.4,479.5 496.3,481.6 495.4,483.8 495.0,485.6 496.2,488.1 497.2,490.8 499.9,493.8 501.9,496.1 499.8,497.0 497.5,497.0 495.3,497.9 492.9,497.6 490.5,498.6 488.1,499.5 485.5,499.4 482.9,500.2 480.3,500.8 477.6,500.6 475.1,501.1 473.7,503.4 471.7,505.1 469.6,506.4 467.6,507.9 465.4,510.4 467.3,512.4 468.8,514.7 472.0,517.5"/>
<polyline points="460.0,519.0 462.4,518.6 464.9,519.0 467.2,518.1 469.7,518.3 472.0,518.2 474.6,517.6 477.2,517.9 479.9,518.0 482.6,518.2 485.2,517.6 487.7,516.5 490.3,516.2 493.1,516.6 495.7,516.4 498.3,515.5 500.9,515.2 503.9,514.2 505.0,516.5 506.4,518.6 508.0,520.4 510.4,520.4 512.9,520.4 515.3,520.7 517.7,521.1 519.9,521.6 522.1,520.9 524.5,521.1 526.6,520.1 529.2,519.8 532.2,520.5 534.3,521.7 536.0,520.0 537.6,518.3 538.2,516.2 539.9,513.9 542.3,512.3 544.5,510.4 546.0,508.1 547.7,505.2 545.9,503.0 545.1,500.5 543.7,498.1 543.5,495.8 541.7,494.2 541.0,492.0"/>
<polyline points="356.9,393.8 355.6,396.5 354.8,399.3 354.9,402.3 355.0,405.3 355.9,408.0 356.2,410.6 355.8,413.5 354.8,416.3 354.6,419.1 352.9,421.6 350.5,423.5 349.8,426.7 350.5,429.9 349.2,431.9 348.4,434.4 345.5,433.8 342.7,432.7 340.0,431.6 337.3,431.3 334.7,430.2 332.1,429.8 329.4,430.2 326.5,430.6 323.8,432.0 321.5,432.2 320.5,434.3 319.7,436.4 318.7,438.4"/>
<polyline points="252.8,387.4 254.8,389.2 257.0,390.6 258.9,392.6 261.1,394.1 263.3,395.4 265.4,396.7 267.6,397.8 269.7,399.1 272.3,399.7 274.1,401.0 275.9,402.4 277.7,403.9 279.4,405.3 280.9,407.1 282.6,408.5 284.9,409.4 286.8,411.1 289.1,412.0 291.3,413.2 293.5,414.4 295.3,416.1 297.4,417.5 299.9,418.2 301.7,420.0 304.1,421.0 306.3,422.5 308.5,424.0 310.4,425.9 312.4,427.7 314.6,428.5 316.3,430.3 318.6,431.1 320.8,432.0"/>
<polyline points="318.7,436.3 316.1,437.4 313.3,437.2 310.7,437.8 308.0,438.4 306.2,440.0 304.6,441.8 303.0,443.6 301.7,445.7 299.5,446.9 297.7,448.2 295.7,449.4 294.5,451.5 292.6,452.8 290.9,454.3 289.1,455.5 287.5,457.4 286.6,459.8 284.9,461.7 283.4,463.8 282.9,466.1 282.2,468.9 282.1,471.8 282.5,474.6"/>
<polyline points="318.7,438.4 321.0,439.2 322.8,440.9 325.3,441.2 327.2,442.5 329.1,444.1 331.1,445.3 333.1,446.8 335.4,448.0 337.4,449.7 340.0,450.3 341.9,452.2 344.4,453.1 345.9,454.8 347.3,456.7 349.2,457.9 350.8,459.6 352.6,460.9 354.3,462.3 356.7,463.3 358.3,465.1 359.8,467.0 361.3,468.9 362.8,470.9 365.4,471.9 367.5,473.5 369.6,475.3 371.8,476.7 373.7,478.3 375.9,479.1 378.4,479.4 380.3,480.9 380.7,483.8 381.2,486.7 382.2,489.3 380.9,491.5 379.1,493.3 378.1,495.2 375.4,495.6 372.6,495.9 370.1,497.1 367.4,498.3 365.0,500.0"/>
<polyline points="354.8,461.8 356.3,459.9 357.5,457.8 358.6,455.8 359.1,453.7 362.0,453.2 364.8,452.6 367.5,451.9 370.1,451.6 372.6,451.4 375.2,451.9 377.7,451.2 380.3,450.9 382.9,450.6 385.4,451.4 388.0,451.8 390.5,451.3 393.1,451.1 395.6,452.0 398.1,452.5 400.7,452.6 403.1,453.6 405.6,453.7 408.1,454.1 410.2,455.1 412.4,456.1 414.6,456.9 416.5,458.4 418.6,459.7 420.6,461.0 422.5,462.5 425.0,462.8 427.2,463.6 429.2,464.6 431.2,465.7 433.3,466.5 435.7,466.4 437.6,467.7 439.9,468.0 442.3,468.6 443.9,470.6 446.4,471.0 448.1,472.9 450.6,473.4 453.0,474.2 454.1,476.5 455.6,478.4 457.2,480.2 459.5,481.3 460.9,483.2 462.1,485.2 463.5,487.2 464.5,489.3 465.0,491.6 465.6,493.9 465.3,496.2 465.7,498.4 466.0,500.7 467.3,502.7 468.1,505.2 466.9,507.6 465.5,509.9 464.7,513.2 467.2,514.4 470.3,515.0 469.5,517.5 470.0,520.0"/>
<polyline points="414.3,457.6 416.4,458.6 418.8,458.8 420.7,460.2 422.6,461.6 425.0,461.8 427.1,462.6 429.1,463.5 431.3,464.2 433.5,464.6 435.6,465.4 437.9,466.7 440.0,465.8 441.9,464.4 444.1,463.9 446.4,462.6 448.1,460.4 450.7,459.4 452.6,457.7 455.1,456.8 457.6,456.1 460.1,455.5 462.8,455.8 465.4,455.9 467.7,455.1 470.2,455.2 472.5,454.0"/>
<polyline points="760.0,530.0 762.6,530.1 765.1,530.3 767.5,531.5 769.9,532.4 772.4,532.2 774.9,531.6 777.4,530.8 779.9,530.6 782.5,530.3 785.0,530.1 787.6,529.9 790.2,529.5 792.6,528.3 795.0,527.5 797.6,527.6 800.0,528.6 802.6,529.1 804.9,530.1 807.6,531.1 810.2,532.2 812.1,533.8 814.4,534.6 816.6,535.7 818.5,537.3 820.4,538.8 823.0,539.9 823.5,542.4 824.0,544.9 824.7,547.4 825.8,550.0 825.2,552.5 824.8,555.0 825.3,557.5 825.1,559.9 826.7,561.9 828.6,563.5 831.2,564.2 833.3,565.6 835.2,566.8 837.1,568.4 839.2,569.3 841.2,570.2 843.7,570.0 845.7,571.2 848.0,571.4 850.3,571.9 852.2,573.1 854.0,574.4 856.2,575.1 857.9,576.8 859.8,578.0 861.9,578.9 864.3,578.9 866.4,579.6 868.6,580.1 870.8,580.8 873.1,581.1 875.0,582.7 877.4,581.6 879.9,580.8 882.4,580.3 885.0,580.3 887.7,580.4 889.6,579.1 891.5,577.9 893.5,576.9 895.7,576.3 897.9,575.8 899.8,574.7 902.0,573.9 904.0,572.9 906.0,571.9 908.2,570.2 908.9,567.7 909.5,565.2 910.1,562.7 910.4,560.0 909.5,557.5 909.3,555.0 910.3,552.6 911.2,550.5 912.3,548.5 912.1,546.1 913.5,544.2 914.0,542.0"/>
<polyline points="1068.2,570.5 1069.0,572.6 1069.6,574.8 1069.9,577.0 1069.8,579.4 1071.0,581.3 1072.2,583.2 1074.4,584.4 1075.8,586.1 1076.9,588.0 1075.3,590.6 1073.6,593.4 1070.6,594.5 1067.9,596.8 1069.2,598.9 1069.8,601.3 1070.4,603.8 1070.1,606.4 1069.8,609.1 1068.6,611.6 1067.9,614.3 1068.7,616.9 1069.9,619.2 1071.3,621.4 1071.9,623.7 1072.8,625.8 1073.6,628.1 1074.5,630.1 1075.1,632.7 1076.2,635.2 1076.8,637.8 1076.6,640.5 1076.9,643.4 1077.1,646.3 1077.0,649.2"/>
<polyline points="1120.7,609.0 1119.3,611.6 1117.1,613.6 1116.0,616.5 1113.6,617.6 1112.3,619.8 1110.7,621.7 1109.2,623.2 1108.4,625.5 1107.4,627.7 1106.4,630.1 1107.2,632.4 1107.6,634.8 1109.0,637.2 1107.4,639.4 1106.1,641.6 1105.6,644.0 1104.6,646.6 1104.6,649.2 1104.8,651.9 1105.0,654.5"/>
<polyline points="281.0,298.0 282.2,295.7 283.8,293.9 285.8,292.2 287.4,290.3 288.2,287.8 289.9,285.5 292.4,286.1 294.8,285.0 297.2,285.1 299.7,285.3 301.5,284.8 302.5,286.7 304.4,288.3 304.8,290.0 306.9,289.2 309.1,288.5 311.4,288.4 313.5,287.6 315.5,286.6 317.6,285.9 319.3,285.6 320.7,283.6 322.2,281.7 323.3,279.5 325.0,277.7 326.7,275.7 327.5,273.5 327.5,271.0"/>
<polyline points="290.0,320.5 287.3,321.4 285.2,323.3 283.0,325.0 280.8,326.3 279.6,328.6 277.4,329.9 275.4,331.6 274.6,333.9 274.1,336.4 272.5,338.2 271.5,339.6 273.3,341.9 274.9,344.3 276.5,346.8 276.9,349.2 277.5,351.4 278.1,353.6 278.8,355.8 280.2,357.8 282.1,359.7 283.8,361.7 285.3,363.9 286.9,366.1 288.1,368.3 289.0,370.7 290.9,372.6 292.9,375.8 294.5,378.2 295.3,380.9 297.4,382.1 299.4,383.4 301.6,384.3 303.9,384.8 306.8,385.5 309.6,386.1 312.6,386.7 314.3,388.6 316.4,389.9 318.3,391.2 321.1,392.3 323.0,390.8 324.9,389.5 325.7,387.3 326.3,385.2 327.0,382.9 328.8,380.5 331.4,378.9"/>
<polyline points="227.0,343.0 228.8,344.8 230.8,346.1 233.0,347.1 235.3,347.9 237.5,349.2 240.1,349.6 242.8,349.7 245.3,350.4 248.0,350.3 250.5,350.8 252.7,352.0 255.1,352.8 257.6,352.7 260.0,353.2 262.4,353.0 264.7,352.3 267.2,352.6 269.6,352.5 272.1,351.9 274.2,353.8 276.5,355.5 278.6,357.6 279.8,359.8 281.1,361.9 282.1,364.3 283.5,366.4 285.1,368.5 286.9,370.3 289.0,371.9 290.4,373.9 291.3,376.3 293.1,378.0"/>
<polyline points="536.4,520.8 538.8,521.5 541.2,521.9 543.6,522.3 546.0,522.6 548.5,522.3 550.7,523.0 553.0,523.2 555.3,523.4 557.7,523.4 559.9,523.8 562.2,524.0 564.4,524.2 566.8,524.6 569.0,525.4 571.5,525.6 573.8,525.9 576.2,526.4 578.4,527.1 581.1,527.0 583.3,527.9 585.0,529.8 587.5,530.2 589.3,532.0 591.7,533.6 593.8,532.7 596.0,532.5 598.2,532.0 600.2,531.1 602.4,530.8 604.6,529.9 606.9,529.6 609.2,529.0 611.5,528.8 613.9,529.6 616.2,529.5 618.5,528.9 620.7,527.9 623.1,528.3 625.5,528.5 627.8,528.1 630.0,526.9 632.4,527.0 634.6,526.1 636.5,524.7 638.8,523.8 640.9,522.6 643.4,522.2 645.1,520.7 645.6,518.6 645.8,516.3 647.0,514.3 647.5,512.1 648.1,510.0"/>
<polyline points="910.0,570.0 912.0,571.0 913.7,572.5 915.8,573.4 917.9,574.2 919.6,575.6 921.7,576.9 923.5,578.6 925.6,580.1 927.6,581.6 929.8,582.9 932.2,583.5 934.0,585.1 935.7,586.8 937.6,588.3 939.7,589.7 942.2,590.3 944.2,591.8 946.8,592.3 949.3,592.8 951.6,594.0 953.8,595.1 956.1,596.2 958.0,597.9 960.2,597.9 962.5,598.5 964.8,598.1 966.9,597.5 969.4,596.9 971.9,596.3 974.5,596.5 976.3,598.0 978.5,598.7 980.7,599.5 982.8,600.3 984.7,601.3 986.4,603.1 988.3,604.6 990.4,605.8 992.3,607.2 994.7,609.3 997.3,611.2 999.5,613.0 1001.0,615.5 1003.0,617.4 1006.1,617.7 1008.6,618.4 1010.8,616.9 1013.1,615.4 1015.6,614.2 1018.0,613.4 1020.5,613.6 1023.0,613.2 1025.4,613.2 1028.2,613.5 1030.8,614.3 1033.4,615.6 1035.1,617.9 1036.9,620.1 1038.4,622.4 1040.3,624.1 1042.0,626.0 1044.0,627.8 1045.1,630.3 1046.2,632.7 1046.5,635.5 1046.7,637.8 1046.7,640.1 1048.0,642.2 1048.2,644.5 1048.4,647.0 1049.4,649.4 1049.5,651.9 1052.1,651.8 1054.5,652.8 1057.0,653.5 1059.8,652.6 1062.1,650.7 1065.0,650.0"/>
<polyline points="1034.5,583.0 1035.2,586.0 1036.1,589.1 1034.9,591.5 1032.8,593.1 1030.4,594.8 1027.8,596.1 1025.4,597.8 1023.0,598.1 1021.0,599.6 1018.8,600.3 1016.4,600.8 1014.4,602.4 1012.3,603.9 1009.9,604.7 1007.6,605.6 1004.8,606.6 1002.3,608.1 1000.1,610.1 997.0,613.0"/>
<polyline points="992.5,608.5 990.4,610.9 987.7,612.8 987.3,615.1 986.4,617.2 985.5,618.8 986.1,620.9 986.8,623.1 988.3,624.8 989.3,626.9 989.7,629.2 990.6,630.8 989.3,633.2 988.3,635.7 987.9,638.0 985.0,639.3 982.1,640.3 980.1,641.1 977.8,641.5 976.0,643.0 973.5,645.0 971.6,647.5 971.2,649.9 970.0,652.0"/>
<polyline points="832.5,525.0 834.9,525.3 837.1,526.3 839.0,527.8 841.2,528.5 844.2,528.7 847.1,528.0 849.8,528.0 852.1,527.4 854.1,526.1 856.3,525.2 858.8,525.0 860.9,523.8 863.4,523.9 865.5,523.3 866.9,525.8 868.1,528.8 866.4,530.9 865.1,533.1 864.1,535.7 861.5,537.0 859.2,538.8 856.8,540.0 854.3,541.4 851.7,542.5 849.5,545.9 849.4,548.3 848.5,550.6 847.6,553.2 848.3,555.5 849.0,557.8 850.0,560.0"/>
<polyline points="834.2,532.0 836.6,534.2 839.6,535.3 841.6,537.2 843.8,538.5 846.4,539.2 849.5,540.2 851.8,542.5"/>
<polyline points="818.5,533.8 821.0,533.9 823.3,533.3 826.0,532.5 827.8,530.8 829.1,528.6 830.6,526.6 832.2,525.1 831.3,522.8 830.6,520.5 830.8,518.0"/>
<polyline points="832.5,532.0 831.5,534.5 831.3,537.2 831.2,539.9 830.9,542.5 830.1,545.1 829.4,547.7 829.4,550.4 829.5,553.2 828.3,555.6 827.2,557.9 825.5,560.0"/>
<polyline points="125.0,249.0 126.7,247.3 128.9,246.3 131.3,245.6 133.2,244.2 134.8,242.1 136.8,241.0 139.3,241.0 141.5,240.7 143.4,239.4 145.4,238.4 147.5,237.2 150.0,237.4 152.6,237.7 155.0,237.4 157.5,237.2 160.0,236.0 162.5,236.5 165.0,236.2 167.6,235.8 170.1,236.1 172.5,237.0 175.0,236.8 177.3,237.5 177.2,240.0 177.1,242.5 176.8,244.9 176.3,247.4 176.2,249.9 176.4,252.6 175.4,255.0 174.7,257.8 177.0,259.3 178.9,261.1 180.3,263.4 182.7,264.8 184.9,265.9 186.4,268.2 188.9,269.0 190.9,270.4 192.9,271.9 194.8,273.2 196.3,274.9 198.4,275.9 200.1,276.8 202.6,277.5 205.1,277.7 207.5,278.5 210.0,278.9 212.6,279.1 215.0,280.2 217.5,279.8 220.0,280.0 222.5,279.3 225.0,280.2 227.5,279.6 230.0,280.0 232.1,280.6 234.4,281.2 236.1,282.7 238.4,283.3 239.8,285.3 241.6,286.8 243.4,288.2 245.9,288.9 247.6,290.2 249.8,291.3 252.1,291.7 254.2,293.0 256.4,293.8 258.9,294.1 260.9,295.5 263.1,296.2 265.5,296.4 267.8,297.0 270.0,298.1 272.3,298.8 274.7,299.0 277.0,299.8 279.9,299.9 280.4,302.4 280.7,304.9 280.6,307.5 280.4,310.0 280.5,312.6 281.0,315.4 283.6,316.4 285.9,317.8 288.3,319.1 291.2,320.5 291.1,323.1 292.3,325.4 292.7,327.5 294.7,329.0 296.6,330.4 299.2,330.6 301.1,332.1 303.5,332.6 305.4,334.2 307.9,334.4 309.8,336.1 312.2,336.5 314.5,337.2 316.4,338.7 318.8,339.3 321.1,339.2 323.3,339.5 325.4,340.8 327.7,341.1 330.0,341.4 332.6,341.4 335.2,340.8 337.8,341.1 340.4,341.5 343.6,341.4 343.1,343.6 341.6,345.6 341.1,347.8 340.9,350.1 340.0,352.2 339.6,354.4 339.7,356.9 338.2,359.0 338.1,361.4 337.6,363.7 338.7,366.0 339.1,368.5 340.3,370.7 341.4,373.2 339.5,374.4 337.2,375.0 335.2,376.2 333.8,378.2 331.6,378.9 329.7,381.0 332.0,381.8 334.0,383.1 335.6,384.9 337.3,386.9 339.4,387.8 341.7,388.1 343.9,388.8 345.9,390.0 348.1,390.7 350.3,391.4 352.6,391.5 354.9,391.6 357.2,391.9 359.5,392.3 361.8,393.1 364.1,393.6 366.4,394.0 368.7,394.4 370.9,394.2 373.1,393.4 375.5,393.4 378.0,393.6 380.2,392.4 382.5,392.0 383.2,389.3 384.2,386.6 386.2,384.6 388.0,383.2 389.7,381.8 391.3,380.2 392.2,377.9 393.7,376.3 395.9,375.4 397.6,373.7 399.6,372.4 401.7,371.1 403.6,369.6 405.0,367.5 407.4,367.1 409.6,366.3 411.5,364.7 413.4,363.2 415.6,362.3 417.7,361.7 419.1,360.0 420.8,358.5 422.5,357.0 423.9,355.2 426.1,354.3 427.8,352.6 428.6,350.4 428.9,348.1 428.5,345.7 428.3,343.4 429.2,340.6 431.9,340.3 434.6,340.4 436.7,340.0 439.0,341.0 441.2,341.9 443.5,342.6 445.9,343.1 448.2,344.1 450.3,345.4 451.9,347.4 453.7,349.0 454.7,351.3 455.7,353.5 456.0,356.6 453.9,357.8 451.9,359.1 449.5,359.7 448.0,361.4 446.1,363.4 444.4,365.5 442.4,367.4 441.6,369.6 440.1,371.3 439.1,373.4 437.9,374.9 438.9,377.3 439.0,380.0 439.9,382.5 440.7,385.0 440.1,387.9 437.4,387.8 435.1,389.2 432.4,389.1 429.7,389.7 427.2,393.0 429.2,394.1 431.6,394.2 433.6,395.2 435.4,396.8 437.0,397.5 436.9,400.0 437.2,402.1 434.9,404.2 432.2,406.5 435.1,407.1 437.3,409.0 439.8,410.7 442.4,411.0 444.9,411.6 447.4,412.4 449.9,412.1 452.4,411.4 455.0,411.8 457.5,411.1 460.0,410.7 462.5,411.6 464.9,412.2 467.6,411.7 470.1,412.1 472.7,412.5 475.1,413.3 477.6,414.0 480.3,414.7 481.5,416.8 483.3,418.4 484.8,420.1 486.5,422.4 487.9,424.8 489.0,427.4 490.0,430.0 491.4,432.4 492.3,435.3 494.5,436.0 496.7,436.6 498.7,437.5 500.6,438.7 502.3,440.3 504.1,441.7 506.3,442.4 507.8,444.3 509.5,445.5 511.2,447.2 513.0,448.6 514.8,449.3 512.3,450.2 509.8,451.1 507.9,452.6 506.8,455.1 505.4,457.4 504.9,460.0 504.9,462.7 506.0,465.1 506.9,467.5 507.4,470.4 510.0,470.9 512.6,471.2 515.0,472.4 517.7,472.6 520.3,473.3 522.6,474.7 525.0,475.9 527.7,476.4 530.4,477.8 531.7,479.7 532.0,482.0 532.5,484.2 534.3,485.8 535.2,487.7 537.2,488.7 538.8,490.4 540.6,491.7 542.5,493.1 544.9,494.0 547.4,494.2 549.9,494.5 552.4,495.1 555.0,494.9 557.5,495.5 559.9,496.1 562.5,496.2 564.9,496.5 567.4,496.2 569.7,496.4 571.9,497.0 574.2,496.9 576.3,497.7 578.6,497.8 580.7,498.7 582.7,500.0 585.0,499.6 587.5,499.3 589.9,498.9 592.4,498.7 594.9,498.5 597.6,498.3 600.1,498.5 602.5,499.0 605.0,499.3 607.5,499.9 610.0,499.9 612.5,500.7 614.9,501.3 617.4,502.1 620.0,502.0 622.5,502.5 625.1,502.4 627.6,502.9 630.1,503.7 632.4,504.8 634.9,505.7 637.4,505.9 640.0,505.5 642.5,505.5 645.0,506.1 647.4,506.7 649.9,507.0 652.5,507.0 655.0,506.9 657.5,507.5 660.0,507.7 662.4,508.4 665.0,508.3 667.5,508.0 670.0,508.3 672.5,508.9 675.0,509.4 677.5,509.4 679.9,510.3 682.5,509.6 685.2,509.8 687.1,511.3 688.9,512.8 689.9,515.0 690.7,517.2 691.9,519.2 693.2,521.0 694.9,522.2 697.3,521.0 699.8,520.1 702.4,520.1 704.3,521.6 705.4,523.8 707.6,525.1 708.2,522.2 710.1,520.0 710.4,517.5 710.1,515.3 712.6,514.6 715.1,514.2 717.4,512.9 719.8,512.2 721.8,511.2 723.7,509.8 725.9,509.3 728.0,508.5 729.8,507.0 732.6,507.0 735.4,505.7 737.0,507.9 738.9,509.9 740.0,512.5 741.6,514.1 743.1,515.8 743.8,518.1 745.2,519.8 746.5,521.8 748.0,523.7 749.7,525.7 751.9,526.2 753.7,527.5 755.8,528.3 757.7,529.6 760.0,530.0 759.7,532.7 758.4,535.0 757.1,537.1 755.8,539.1 754.1,540.8 752.4,542.4 751.7,544.7 750.1,546.3 748.4,547.9 747.6,550.0 747.6,552.7 746.9,555.2 746.1,557.6 745.1,560.0 745.5,562.5 745.7,565.3 743.7,567.5 742.5,570.1 745.0,570.4 747.4,571.2 750.1,570.9 752.5,571.7 754.9,572.6 757.4,572.6 759.6,573.3 761.4,574.7 763.8,574.8 765.8,575.9 767.9,576.7 770.0,577.5 772.1,578.4 774.2,579.2 776.3,580.0 778.6,580.2 780.6,581.4 782.8,581.9 785.0,582.2 787.5,581.8 790.0,582.5 792.5,583.1 795.0,583.2 797.5,583.2 800.0,583.2 802.0,583.0 803.6,584.7 805.3,586.4 807.6,587.4 809.7,588.6 811.4,590.3 812.7,592.2 814.4,594.0 816.7,594.8 818.6,596.4 821.1,596.7 823.1,598.1 825.2,599.2 827.6,599.7 829.8,600.3 831.8,601.5 833.9,602.2 836.0,603.2 838.2,603.8 840.2,604.9 842.4,605.5 844.9,605.9 847.4,606.7 849.9,607.2 852.4,607.7 854.8,608.2 857.3,609.0 859.8,609.9 862.4,610.6 864.9,611.2 867.5,611.2 870.0,611.5 872.4,612.3 875.2,613.2 877.4,612.5 879.5,611.8 881.7,611.1 883.8,610.4 886.0,609.6 887.9,608.4 890.0,607.3 892.5,607.1 895.0,607.3 897.5,607.9 899.7,608.2 901.7,609.1 904.1,609.2 906.2,610.2 908.0,611.6 909.9,613.1 912.5,612.9 914.9,614.2 917.3,615.1 919.5,615.5 921.4,617.4 923.2,619.3 925.1,621.2 927.2,622.9 929.0,624.6 931.2,625.9 933.0,627.6 935.1,629.0 937.4,630.7 939.9,631.2 942.6,630.7 945.1,630.8 947.5,632.2 950.3,632.0 952.2,633.7 954.1,635.4 955.7,637.4 958.1,638.4 960.2,639.8 961.4,641.9 963.3,643.4 964.7,645.3 966.9,646.4 968.2,648.4 970.0,650.1 972.5,650.7 975.0,650.3 977.5,650.0 980.0,649.7 982.5,649.4 985.0,649.9 987.5,649.4 990.0,649.4 992.5,649.7 995.0,650.4 997.5,649.8 1000.5,649.5 1001.5,651.9 1003.0,653.7 1005.0,655.1 1007.3,655.5 1009.3,656.5 1011.3,657.3 1013.3,658.3 1015.7,660.2 1014.8,662.7 1013.3,665.0 1011.9,667.9 1014.0,669.5 1015.8,671.3 1017.5,673.1 1019.1,675.0 1020.0,677.4 1022.5,678.2 1025.1,678.3 1027.6,679.0 1030.0,679.6 1032.5,679.6 1035.0,679.9 1037.5,680.2 1040.0,680.1 1042.5,679.6 1045.1,679.6 1047.6,679.5 1050.1,679.2 1052.6,679.0 1055.1,678.7 1057.5,677.7 1060.0,677.5 1062.0,676.5 1064.0,675.4 1066.0,674.6 1068.3,674.1 1070.0,672.6 1072.5,672.9 1074.9,673.9 1077.4,674.3 1080.0,674.7 1082.7,675.7 1084.9,673.8 1087.4,673.1 1090.2,672.7 1092.0,671.4 1093.7,669.9 1095.3,668.2 1097.4,667.5 1098.6,665.6 1099.1,663.3 1099.8,661.2 1101.0,659.3 1102.4,657.4 1105.0,655.3 1107.5,655.1 1109.9,654.0 1112.5,654.3 1115.0,653.7 1117.5,654.4 1120.0,654.8 1122.4,655.4 1125.0,655.0 1127.5,655.2 1130.0,655.5 1132.6,656.0 1132.4,658.4 1132.4,660.8 1132.0,663.1 1131.4,665.4 1131.1,667.8 1130.3,670.1 1129.7,672.3 1128.6,674.3 1128.3,676.6 1127.3,678.6 1126.4,680.7 1125.1,682.6 1124.3,684.8 1123.6,686.9 1123.0,689.1 1122.5,691.3 1122.6,693.7 1121.7,695.8 1120.9,697.9 1120.7,700.1 1120.0,702.6 1119.3,705.1 1118.7,707.5 1117.4,709.9 1117.8,712.5 1117.6,715.0 1117.8,717.5 1117.9,720.0 1117.5,722.5"/>
<polygon points="144.0,127.5 145.5,123.4 148.0,123.4 149.9,123.0 154.0,122.5 156.3,123.7 158.0,125.5 159.8,127.3 161.9,128.8 164.5,129.8 166.4,131.7 168.5,133.0 170.6,134.4 172.1,136.5 174.7,137.3 176.3,139.4 178.4,141.0 180.5,141.9 182.8,142.1 185.0,142.6 186.8,143.9 188.9,144.9 191.3,144.9 193.5,145.7 195.3,147.4 197.7,147.8 199.7,149.1 201.8,149.8 203.7,151.2 205.9,151.6 207.8,152.8 210.0,153.3 211.6,154.5 213.7,156.0 213.8,158.6 214.9,160.7 217.2,162.1 218.7,164.0 219.6,166.2 219.5,168.7 220.8,170.6 222.5,172.2 222.5,174.7 224.0,176.4 225.1,178.5 225.1,181.9 225.9,185.2 228.0,186.5 230.2,187.2 232.8,186.5 235.0,187.6 237.6,187.7 240.1,187.2 242.6,187.2 245.5,186.7 247.8,184.7 251.0,182.6 251.1,180.1 250.4,177.5 250.7,175.0 251.7,172.6 251.4,170.7 253.7,169.6 255.4,167.4 257.4,165.7 259.6,164.5 261.9,163.2 263.6,161.1 265.0,159.9 265.9,157.8 266.1,155.5 265.8,153.3 267.2,151.2 266.2,148.8 267.0,146.7 268.0,144.5 268.3,142.3 267.9,140.1 267.7,137.7 268.7,135.6 268.4,133.3 270.1,131.3 269.9,129.4 272.5,129.5 275.0,129.9 277.3,131.4 280.1,130.7 282.4,132.3 285.2,132.5 287.8,133.3 289.1,134.8 290.3,132.0 291.1,129.2 293.4,127.8 296.0,127.1 298.7,126.9 301.2,125.0 303.4,125.9 305.7,126.7 307.7,128.3 309.8,129.8 312.2,130.7 314.9,130.8 317.2,132.1 319.7,132.8 322.3,133.1 324.7,134.2 327.6,133.7 330.1,134.2 332.4,135.5 334.9,136.4 337.2,137.7 339.8,138.5 342.3,139.1 344.9,139.2 347.5,139.5 350.2,140.9 352.5,139.6 354.9,138.7 357.3,137.8 359.8,137.3 362.5,137.8 365.2,137.1 368.2,138.3 370.4,140.1 371.4,142.5 370.8,145.1 371.7,147.5 371.3,150.1 371.3,152.6 371.9,155.6 373.5,157.4 375.6,158.6 377.7,159.8 378.9,161.9 380.3,163.8 381.5,164.9 381.6,167.4 380.9,169.9 381.9,172.5 380.5,174.9 381.1,177.4 383.1,178.6 385.1,180.2 387.4,181.1 389.7,181.8 392.2,182.8 394.9,183.0 397.3,183.9 400.1,183.9 402.8,184.2 404.5,185.9 406.6,186.8 408.5,188.2 411.0,187.9 413.3,188.3 415.0,190.0 417.1,191.0 419.5,191.4 421.2,193.0 423.3,194.1 425.6,194.6 427.5,195.3 430.8,195.9 433.3,196.6 435.4,197.8 437.3,198.9 438.5,200.9 439.7,202.7 441.0,204.8 442.9,206.6 443.9,208.9 446.0,210.5 447.4,213.1 449.8,214.0 452.3,214.5 454.8,214.9 457.5,214.5 459.7,214.9 459.9,217.7 458.3,220.0 457.7,222.2 459.2,224.4 461.9,225.0 463.2,227.4 465.4,228.6 467.6,229.8 469.6,231.3 471.2,233.4 473.4,234.6 476.0,235.6 478.3,235.5 480.7,234.7 483.0,235.3 485.4,235.0 487.7,234.8 490.3,235.4 492.5,236.2 494.6,237.3 496.5,238.8 498.2,240.7 500.5,241.3 502.4,242.8 504.7,243.1 506.8,243.7 509.0,244.4 511.0,245.4 513.3,245.7 515.1,247.0 517.5,248.2 520.0,248.1 522.5,248.5 525.0,248.7 527.5,249.0 530.4,248.3 532.5,249.3 534.5,250.5 535.9,252.7 538.5,253.0 540.3,254.9 541.7,257.2 542.6,259.7 542.9,261.6 544.7,263.1 546.9,263.6 548.8,264.8 550.5,266.6 552.2,267.7 553.8,269.6 554.3,272.1 555.8,274.0 557.7,275.7 559.4,277.5 559.8,280.1 561.2,282.4 562.2,284.8 562.3,287.6 563.7,289.4 565.4,291.0 567.3,292.4 569.0,294.0 570.3,295.9 571.2,298.1 572.2,300.3 574.6,301.3 576.2,303.0 578.2,304.3 579.0,306.8 580.9,308.3 582.5,310.0 584.8,311.4 587.3,312.4 590.3,312.3 592.6,314.1 593.5,311.3 595.6,309.5 597.5,307.4 599.7,306.8 601.8,305.8 603.6,304.5 605.1,302.9 607.3,301.1 609.8,300.1 612.6,300.1 614.9,298.9 617.0,297.7 618.4,295.7 619.9,293.5 622.4,293.1 625.2,293.4 627.7,293.2 630.2,292.4 632.5,290.8 635.1,291.6 637.5,290.6 640.1,289.9 642.7,290.5 645.3,291.3 647.9,292.1 650.2,293.0 652.6,293.7 654.9,295.2 657.4,295.8 659.9,296.0 661.8,296.8 664.3,297.7 666.2,299.3 667.5,301.6 670.1,302.1 672.8,302.4 675.9,304.3 675.1,306.5 674.1,308.7 672.8,310.7 671.0,312.5 670.8,315.1 670.6,317.4 672.2,319.3 673.5,321.2 673.4,323.5 673.3,325.9 673.9,328.0 675.0,330.0 677.5,331.3 679.2,332.6 680.2,335.0 679.6,337.6 680.0,340.1 681.1,342.5 681.2,345.1 680.2,347.5 679.3,350.0 678.9,352.7 681.3,352.9 683.5,353.6 685.5,354.8 687.8,355.3 690.3,355.2 692.6,356.9 695.3,357.4 697.3,359.4 700.0,360.0 702.0,361.2 703.7,362.9 705.8,364.0 708.2,364.4 710.2,365.9 710.0,368.9 711.3,371.5 712.7,373.4 714.9,375.3 717.3,376.2 720.0,376.6 722.4,378.3 725.0,377.7 727.5,378.4 730.0,378.2 732.6,378.0 735.5,378.2 737.2,379.9 738.8,381.7 741.1,382.5 742.6,384.4 744.6,385.4 746.7,387.0 748.5,389.0 750.4,390.8 752.1,393.1 753.8,394.6 755.7,395.8 758.2,396.1 759.9,398.0 762.6,397.9 764.9,399.2 767.7,398.9 770.3,399.3 772.4,400.2 774.9,399.8 777.5,400.3 780.0,400.4 782.5,400.5 785.7,400.7 786.3,398.2 788.1,396.8 789.1,394.8 790.7,393.2 792.4,391.7 794.5,390.7 796.3,389.5 797.6,387.8 800.1,387.9 802.5,387.0 805.0,386.2 807.6,385.8 809.1,387.8 811.0,389.3 813.3,390.3 815.5,391.2 817.7,392.5 818.0,395.0 817.7,397.5 818.5,400.0 817.3,402.3 816.3,404.7 815.1,406.9 812.7,408.3 812.0,410.9 810.4,412.6 810.2,415.1 810.0,417.7 809.5,420.2 809.0,422.7 808.4,424.8 807.9,427.6 807.8,430.2 808.5,432.7 810.0,435.1 812.6,435.4 815.2,435.6 817.7,436.2 819.9,437.7 822.2,438.2 824.0,439.6 826.2,440.2 828.6,440.0 830.6,441.1 832.6,442.1 835.0,442.9 837.6,442.7 840.1,442.8 842.6,442.7 845.0,444.0 846.3,441.7 848.8,440.9 850.7,439.3 852.5,437.9 855.0,437.5 857.5,437.9 860.0,438.1 862.5,438.2 864.7,438.4 867.2,439.2 869.8,439.7 872.6,439.1 875.2,439.5 878.4,440.6 879.3,443.2 879.3,445.3 881.8,443.8 884.3,442.3 886.6,440.2 886.6,437.7 887.5,435.5 889.1,433.5 889.2,431.8 891.6,430.8 894.8,429.8 894.5,432.6 894.9,435.1 895.8,437.5 895.9,440.2 896.2,442.7 897.8,445.0 898.5,447.5 898.9,450.1 901.3,450.9 902.7,452.6 903.8,454.8 905.9,455.8 907.5,457.5 909.9,458.7 912.2,459.9 914.1,460.4 915.2,462.4 916.1,464.4 918.2,465.9 919.6,467.7 919.6,470.1 920.5,472.6 921.9,474.9 922.8,477.2 924.6,479.1 926.6,480.9 928.8,482.4 930.5,484.8 931.4,487.3 932.6,489.7 932.5,492.5 932.8,495.4 935.5,496.5 937.4,498.9 940.2,500.8 942.5,499.3 945.2,499.4 947.7,499.1 950.0,497.5 953.0,494.8 951.1,492.7 951.1,489.9 949.8,487.5 948.5,485.0 949.8,482.5 949.5,480.0 949.9,477.5 949.8,475.0 950.4,473.1 952.4,472.1 954.3,470.8 956.1,469.5 958.3,468.1 959.6,465.7 961.6,463.8 961.7,461.4 963.9,463.1 964.9,465.3 965.6,467.6 966.7,470.0 966.6,472.6 966.9,475.1 967.2,477.7 967.9,480.1 968.7,482.6 969.2,485.1 970.0,487.6 971.9,488.6 974.0,489.5 976.2,490.0 978.3,491.0 980.1,492.3 982.8,493.0 985.1,494.6 987.8,495.0 990.3,495.8 992.8,496.6 995.3,497.4 997.8,498.2 999.4,499.2 1001.7,498.5 1003.8,497.6 1006.1,497.0 1007.7,495.2 1009.4,493.6 1010.4,491.3 1011.7,489.8 1012.2,487.3 1013.8,485.0 1014.9,482.6 1015.7,480.2 1016.6,478.0 1017.2,475.8 1017.8,473.5 1017.1,471.9 1020.0,472.1 1022.6,472.8 1024.9,473.7 1027.5,473.4 1030.1,473.5 1032.5,473.1 1035.0,472.7 1037.5,473.0 1040.0,473.5 1042.7,472.3 1044.8,473.6 1046.4,475.2 1047.9,476.6 1049.5,478.5 1051.2,480.1 1053.6,480.3 1055.9,480.6 1057.7,481.9 1060.3,482.4 1062.6,483.9 1064.8,485.8 1067.3,486.3 1069.2,487.5 1071.0,488.9 1073.4,489.3 1074.8,491.6 1077.6,491.4 1080.2,492.0 1082.5,493.1 1085.0,493.9 1087.9,494.3 1090.4,495.5 1092.7,497.4 1094.4,499.2 1096.3,500.9 1097.1,503.4 1099.2,505.0 1100.7,506.8 1102.4,508.5 1103.1,511.0 1105.1,512.8 1107.5,512.0 1110.1,511.8 1112.6,511.1 1115.0,511.0 1117.5,510.0 1120.0,509.6 1122.5,509.8 1125.0,509.4 1127.5,510.0 1129.9,509.7 1132.3,508.4 1134.9,508.2 1137.3,507.2 1140.0,507.4 1142.4,508.5 1144.8,509.4 1147.6,509.1 1150.0,509.8 1152.4,508.8 1155.0,509.0 1157.3,507.5 1160.0,508.1 1162.1,508.4 1164.1,509.4 1166.1,510.4 1168.1,511.2 1170.3,511.8 1172.5,512.8 1175.0,512.7 1177.5,512.3 1180.0,512.5 1182.5,511.8 1185.0,511.5 1187.5,511.5 1190.3,512.7 1191.8,510.7 1193.8,509.1 1195.3,507.1 1196.8,505.1 1198.0,502.8 1199.2,500.9 1199.5,498.4 1200.4,496.3 1203.0,494.1 1205.5,495.5 1208.0,496.8 1210.1,498.0 1212.6,498.3 1215.0,499.5 1217.5,499.3 1220.1,499.2 1222.5,500.5 1225.0,500.8 1227.5,500.6 1230.2,500.5 1232.3,502.4 1235.1,502.6 1237.9,503.1 1240.1,504.2 1242.5,505.2 1245.0,505.9 1247.6,505.1 1250.3,505.6 1252.6,507.9 1254.6,509.9 1253.8,512.4 1253.5,514.9 1252.5,517.3 1252.2,519.9 1252.4,522.6 1252.2,525.2 1251.6,527.7 1250.3,530.2 1249.3,532.6 1247.8,534.6 1245.2,535.8 1243.3,537.5 1242.1,539.8 1242.2,542.3 1241.4,544.4 1240.8,546.6 1240.1,548.7 1238.8,550.6 1237.1,552.3 1237.1,555.2 1235.7,557.5 1235.6,560.2 1235.0,562.4 1234.9,564.9 1234.4,567.5 1235.3,570.0 1234.7,572.5 1233.6,574.9 1233.6,577.4 1233.9,580.0 1234.0,582.6 1232.9,585.0 1232.4,587.4 1231.9,589.9 1231.2,592.3 1230.6,594.8 1230.3,597.4 1229.0,599.8 1229.5,602.5 1229.7,605.2 1228.7,607.6 1227.0,609.9 1226.8,612.5 1225.6,614.8 1225.7,617.7 1227.4,619.5 1228.8,621.6 1230.1,623.8 1232.1,625.5 1234.3,626.4 1235.7,628.3 1237.9,629.1 1239.7,630.3 1241.4,631.9 1243.1,633.6 1245.6,634.8 1245.9,637.5 1246.5,640.1 1246.6,642.7 1247.0,645.2 1247.5,647.7 1248.3,650.1 1248.7,652.7 1250.1,655.0 1251.5,657.3 1251.2,660.0 1251.8,662.4 1252.4,664.9 1253.3,667.8 1252.6,670.3 1251.3,672.7 1250.4,675.1 1248.7,677.3 1248.3,679.9 1248.2,682.5 1247.9,685.1 1247.8,687.7 1246.3,690.0 1246.6,692.7 1245.1,695.0 1245.3,697.7 1244.7,700.2 1244.1,702.7 1243.5,705.2 1242.8,707.7 1242.1,710.2 1241.6,712.7 1240.8,715.6 1239.6,717.4 1238.3,719.3 1237.1,721.2 1235.5,722.9 1233.5,724.7 1231.2,726.3 1229.8,729.4 1227.5,728.2 1224.5,728.0 1223.7,725.5 1221.4,724.4 1219.6,723.1 1218.3,720.6 1216.6,718.7 1214.6,717.2 1211.8,716.7 1209.7,715.9 1207.2,715.1 1204.7,714.1 1202.3,712.1 1200.9,714.1 1199.1,715.5 1197.1,716.6 1195.0,717.6 1192.2,717.5 1190.0,719.1 1187.5,720.3 1185.0,719.8 1182.5,720.1 1180.2,720.4 1177.6,721.4 1175.3,723.1 1172.8,724.3 1169.8,724.3 1167.4,726.5 1164.8,726.1 1162.4,724.7 1159.8,724.3 1157.4,723.1 1155.1,721.7 1152.3,721.5 1150.2,720.9 1147.7,721.6 1145.0,721.4 1142.5,721.7 1139.3,721.8 1137.9,724.2 1136.1,726.1 1134.8,728.5 1132.7,729.4 1130.2,728.5 1127.7,727.7 1124.9,727.7 1123.4,725.8 1121.8,724.2 1119.3,723.9 1117.5,723.4 1115.0,722.2 1112.5,722.3 1110.2,721.9 1107.7,720.9 1105.2,720.3 1102.5,720.6 1099.5,720.5 1098.4,718.3 1096.9,716.5 1095.9,714.8 1095.3,712.3 1093.9,710.0 1093.4,707.4 1092.9,704.9 1093.0,702.3 1092.5,699.8 1090.7,696.7 1087.8,698.4 1084.7,699.6 1083.0,701.0 1081.2,702.4 1079.7,704.2 1078.0,705.8 1075.9,706.6 1074.0,707.9 1072.0,708.9 1069.8,709.7 1068.2,711.4 1066.3,712.6 1063.9,712.8 1062.1,714.3 1060.1,715.4 1057.7,715.2 1055.9,717.1 1053.8,717.7 1051.7,718.8 1049.2,718.2 1046.8,718.3 1045.5,719.1 1042.9,718.0 1040.3,716.8 1037.7,715.5 1035.2,714.4 1032.8,713.3 1030.3,712.4 1027.9,711.7 1025.3,711.8 1023.6,710.3 1021.5,709.5 1019.5,708.5 1017.8,707.1 1016.1,705.2 1014.1,703.7 1012.0,702.4 1010.1,700.7 1007.5,700.2 1005.1,699.1 1002.3,699.4 999.9,698.3 997.4,698.1 994.9,697.6 992.6,696.2 990.0,696.2 987.6,694.8 985.2,694.4 982.7,693.4 980.2,692.9 977.7,692.4 974.9,692.0 972.3,692.2 970.1,694.1 967.7,695.3 964.6,695.9 962.6,693.6 960.4,691.6 958.0,691.6 955.8,690.9 953.9,689.8 951.7,689.1 949.8,688.4 947.3,687.8 945.0,686.3 942.3,686.3 940.1,685.2 937.4,685.0 935.1,686.5 932.6,687.1 930.4,688.4 928.4,689.4 926.4,690.3 924.1,690.7 922.3,692.2 919.7,692.2 918.1,693.9 916.0,695.1 915.5,697.0 913.7,695.5 912.1,693.7 910.3,691.9 908.2,691.0 906.2,690.0 903.9,689.7 902.2,688.2 900.7,687.3 899.7,684.8 898.4,682.5 897.2,680.0 896.5,677.6 895.7,675.2 895.7,672.6 896.2,669.9 895.7,667.4 895.8,664.4 893.9,662.5 891.3,661.3 890.0,659.1 887.1,658.9 884.7,657.8 882.4,655.5 879.9,655.3 877.5,656.3 875.1,657.3 872.6,658.2 870.4,658.4 868.4,659.4 866.0,659.5 864.1,660.8 861.7,661.0 859.8,661.5 857.3,662.2 854.9,663.2 852.3,663.6 849.7,664.2 847.6,666.1 844.9,666.3 842.2,667.1 840.3,669.7 837.5,671.4 834.9,671.5 832.5,671.0 829.9,671.2 827.4,671.2 824.4,670.8 822.8,669.2 820.9,668.1 818.9,666.9 817.4,665.0 817.2,662.4 816.3,660.0 816.5,657.3 815.0,655.2 812.4,655.4 810.0,654.3 807.5,654.3 805.1,654.7 802.5,654.1 800.1,655.2 797.5,654.4 794.9,655.1 793.4,652.8 791.3,651.2 789.4,649.3 787.3,647.8 785.8,645.6 783.5,644.5 781.0,643.6 779.8,641.1 778.0,639.3 775.7,638.7 773.7,637.6 771.8,636.4 770.0,635.8 767.5,634.8 765.0,634.4 762.5,634.1 759.9,635.1 757.8,634.3 756.1,632.8 753.7,632.6 752.1,630.9 749.9,630.2 747.3,630.3 744.8,629.7 742.6,627.8 739.9,627.5 740.2,624.9 740.3,622.3 741.1,619.8 741.6,617.2 742.4,614.7 743.6,612.3 745.2,609.9 744.1,607.5 744.1,604.7 742.9,602.4 742.1,599.9 741.3,597.5 741.4,594.8 740.3,592.2 738.4,590.8 736.4,589.4 735.0,587.7 732.5,586.9 730.0,586.6 727.6,585.3 724.9,586.0 722.4,585.4 719.8,585.5 717.3,584.8 715.0,583.3 712.7,582.0 710.0,582.2 707.6,581.7 704.9,582.0 702.3,582.2 699.8,581.8 697.4,581.0 694.9,580.2 693.2,578.5 691.4,577.3 688.9,577.2 686.6,576.9 685.0,575.0 683.0,573.7 681.9,571.5 680.1,569.8 678.4,568.3 675.9,568.2 673.8,567.4 672.2,565.5 669.7,565.3 668.2,563.5 666.5,561.9 664.7,559.4 662.6,561.5 659.9,562.4 658.4,564.2 656.5,565.3 654.7,566.7 652.6,568.4 650.0,567.9 647.5,568.4 644.9,568.3 642.4,568.0 640.0,569.6 637.4,568.9 634.3,569.3 632.9,571.2 632.1,573.7 630.8,575.3 630.1,577.8 629.3,580.3 626.9,583.3 625.3,581.7 623.2,580.8 622.0,578.5 620.0,577.4 617.7,577.2 615.4,577.0 613.4,575.8 611.5,574.3 609.6,573.1 607.4,572.5 605.2,572.0 602.6,572.4 600.5,571.6 598.8,569.7 596.3,569.9 594.4,568.5 592.3,567.7 590.3,566.9 587.6,566.0 585.0,565.0 582.5,564.3 580.0,563.9 577.5,564.1 574.9,565.1 572.5,564.7 569.9,563.2 572.4,562.6 574.9,562.6 577.4,562.3 579.9,561.8 577.5,562.8 574.9,562.4 572.5,563.7 570.0,563.8 567.5,564.3 565.1,565.2 562.6,565.5 560.1,565.4 557.1,565.0 558.2,567.5 558.5,570.0 557.4,572.5 556.4,574.9 555.3,577.3 554.8,579.7 553.1,581.3 551.1,582.2 549.4,583.9 546.9,583.9 544.6,585.8 542.1,584.6 539.4,582.9 537.9,581.2 536.7,579.3 536.2,576.9 534.9,575.1 533.5,573.2 531.4,571.9 530.1,569.3 527.7,570.2 525.6,569.5 523.3,569.8 521.0,569.4 518.8,569.3 516.5,569.3 514.5,567.9 512.3,567.3 510.1,566.6 507.4,567.6 505.0,566.6 502.6,565.9 499.9,566.3 497.3,566.4 494.9,565.2 492.4,564.0 489.9,562.9 487.6,561.6 485.1,560.9 482.5,561.6 480.1,560.8 477.5,561.7 474.9,561.6 472.4,561.7 470.0,560.9 467.4,561.2 465.0,560.6 461.9,560.1 461.2,557.6 461.7,555.0 460.7,552.6 460.8,550.0 460.6,547.5 460.9,545.0 459.9,542.5 459.2,540.0 460.0,537.5 459.7,535.1 459.9,532.4 458.8,530.0 457.6,527.7 458.3,524.9 456.9,522.2 455.4,524.6 454.8,526.5 452.4,527.7 450.1,529.2 447.7,529.9 445.2,530.4 442.5,530.0 439.9,530.1 437.6,531.3 435.0,531.3 432.5,532.1 429.9,531.7 427.4,531.9 425.0,533.4 422.5,533.6 419.7,534.6 417.7,532.3 415.5,530.5 413.2,529.3 411.3,527.4 408.7,526.3 406.7,524.6 405.4,521.8 403.1,521.3 401.3,519.9 399.2,519.2 397.4,517.7 395.6,516.7 393.6,515.2 391.6,513.7 389.4,512.5 386.8,511.8 385.1,509.7 382.7,508.5 380.1,508.4 377.5,508.2 375.1,507.3 373.7,505.4 371.2,505.1 369.7,503.3 368.0,501.8 365.5,500.0 362.5,498.0 360.0,498.2 357.5,498.0 355.0,498.2 352.1,498.1 349.6,499.3 347.5,501.4 344.9,502.4 342.6,503.5 341.4,505.6 339.7,508.2 337.7,507.1 335.9,505.7 333.7,505.0 332.2,503.1 329.6,503.1 327.5,501.6 326.1,499.4 323.8,498.3 321.5,497.2 319.6,495.8 317.6,494.9 315.9,493.1 314.3,491.4 311.9,491.2 310.3,489.5 308.7,487.9 306.5,487.2 304.4,486.2 302.8,484.3 300.5,484.0 298.7,482.7 296.9,481.1 294.8,480.3 292.4,480.1 290.6,478.7 288.8,477.4 286.9,476.2 284.6,475.4 282.6,474.0 281.6,471.7 279.3,470.7 278.0,468.3 275.9,466.6 273.9,464.9 272.7,463.5 270.1,463.6 267.7,464.4 265.2,465.0 262.6,465.1 259.7,465.5 257.2,464.4 254.3,462.9 253.2,460.7 252.6,458.3 252.1,455.7 250.5,453.9 248.7,452.1 246.9,450.2 246.8,447.9 245.3,446.0 244.1,444.1 243.8,441.8 243.1,439.7 241.9,438.3 240.1,437.1 238.2,435.8 236.3,434.6 235.0,432.6 232.6,431.5 230.0,431.6 227.7,430.2 225.1,430.2 222.7,429.7 220.8,428.4 218.3,428.4 216.1,427.8 214.6,425.8 212.3,425.3 210.6,423.7 208.5,422.9 206.4,422.3 204.8,420.4 202.9,419.4 200.4,419.1 198.4,418.1 196.4,417.0 195.2,414.7 193.2,413.6 190.9,413.3 188.8,412.3 186.6,411.8 184.6,410.9 182.6,409.9 180.6,408.9 178.5,408.1 176.8,406.4 174.9,405.2 173.1,404.2 171.1,402.7 169.1,401.2 167.1,399.7 164.9,398.5 162.9,396.8 160.4,396.6 158.1,396.3 156.1,395.4 154.1,394.4 151.9,393.3 149.8,391.5 148.1,389.2 146.0,388.5 143.0,387.7 140.3,387.5 141.0,390.0 140.6,392.5 139.8,395.0 140.6,397.5 139.9,400.0 139.1,402.5 139.9,405.1 138.9,402.8 136.6,401.7 134.8,400.2 133.5,398.2 131.3,397.1 129.9,395.4 127.5,394.1 124.9,393.7 122.1,393.4 120.5,391.5 118.7,390.1 116.3,389.8 114.3,388.9 111.9,388.1 110.3,385.9 109.1,383.4 107.3,381.5 105.6,379.4 103.7,377.6 101.4,376.1 99.1,374.6 97.1,373.4 95.4,371.7 93.3,370.9 91.1,370.4 89.1,369.3 87.6,367.2 85.4,366.3 83.0,365.8 80.5,365.8 78.5,364.1 76.3,363.2 73.4,362.6 73.6,360.0 73.8,357.4 72.6,355.0 73.2,352.7 73.8,350.2 75.1,347.8 75.1,345.2 77.1,344.1 78.9,342.7 80.3,340.8 81.5,339.8 82.2,337.3 83.8,335.0 85.3,332.7 84.6,329.9 85.5,327.4 86.7,325.0 87.6,322.6 89.3,321.0 91.2,319.5 92.2,317.3 93.2,314.9 95.3,313.4 97.7,312.0 99.3,310.1 100.8,308.1 101.6,305.9 103.1,304.2 104.4,302.3 105.4,300.2 104.0,302.7 103.0,305.4 101.0,307.5 102.3,305.3 104.1,303.7 105.9,301.9 107.7,300.0 108.4,297.5 107.2,295.0 107.7,292.5 107.6,289.9 105.7,288.5 105.4,286.0 103.7,284.4 102.7,282.4 101.3,280.1 99.9,277.8 100.1,275.1 101.6,273.1 104.0,272.5 106.3,271.2 107.0,268.7 107.8,266.3 109.3,264.6 110.5,262.0 112.9,260.1 113.5,257.1 114.7,255.0 116.2,253.1 118.6,252.0 120.1,250.3 122.4,248.8 124.2,249.5 123.0,247.5 121.6,245.3 121.8,242.5 121.4,239.8 119.7,237.5 118.0,234.9 118.3,232.4 118.7,229.9 119.3,226.8 121.2,224.9 123.5,223.5 125.4,221.6 127.7,220.6 130.0,220.2 131.9,219.0 134.0,218.1 136.1,217.3 138.5,217.4 140.5,216.1 142.6,215.0 142.9,212.7 144.9,211.2 146.2,209.4 147.2,207.4 148.3,205.6 149.0,203.3 150.7,201.7 151.1,199.3 152.1,196.6 154.5,196.4 156.8,196.2 158.9,195.3 160.9,194.4 163.0,193.6 164.5,191.9 166.6,190.8 169.0,189.9 170.0,187.5 171.7,185.9 173.7,184.7 175.4,182.9 177.5,181.5 178.6,179.2 180.7,177.7 182.5,175.9 184.9,174.9 187.1,173.5 189.3,172.1 191.0,170.0 190.2,167.5 188.2,165.8 186.9,163.7 185.0,161.9 184.2,159.4 182.9,157.3 181.3,155.6 180.2,153.6 178.8,151.9 177.1,150.4 175.1,149.1 173.2,147.9 171.3,146.8 169.5,145.5 167.6,144.2 166.4,142.1 164.0,141.1 162.1,139.2 158.9,138.8 157.6,136.3 157.6,133.3 156.9,130.6 155.7,127.6 153.8,124.1 149.7,122.8 146.0,125.0"/>
</g>
<g transform="translate(195.1,317.2)"><rect x="-2.8" y="-16.2" width="5.6" height="14" rx="2.8" fill="#8fd0c8"/>
<ellipse cx="0" cy="0" rx="5.9" ry="3.8" fill="#8fd0c8"/>
<rect x="-0.9" y="-12.2" width="1.8" height="10" fill="#e3262b"/>
<ellipse cx="0" cy="0" rx="4" ry="2.6" fill="#e3262b"/></g>
<g transform="translate(192.6,380.5)"><rect x="-2.8" y="-16.2" width="5.6" height="14" rx="2.8" fill="#8fd0c8"/>
<ellipse cx="0" cy="0" rx="5.9" ry="3.8" fill="#8fd0c8"/>
<rect x="-0.9" y="-12.2" width="1.8" height="10" fill="#e3262b"/>
<ellipse cx="0" cy="0" rx="4" ry="2.6" fill="#e3262b"/></g>
<g transform="translate(295.0,394.0)"><rect x="-2.8" y="-16.2" width="5.6" height="14" rx="2.8" fill="#8fd0c8"/>
<ellipse cx="0" cy="0" rx="5.9" ry="3.8" fill="#8fd0c8"/>
<rect x="-0.9" y="-12.2" width="1.8" height="10" fill="#e3262b"/>
<ellipse cx="0" cy="0" rx="4" ry="2.6" fill="#e3262b"/></g>
<g transform="translate(415.0,495.5)"><rect x="-2.8" y="-16.2" width="5.6" height="14" rx="2.8" fill="#8fd0c8"/>
<ellipse cx="0" cy="0" rx="5.9" ry="3.8" fill="#8fd0c8"/>
<rect x="-0.9" y="-12.2" width="1.8" height="10" fill="#e3262b"/>
<ellipse cx="0" cy="0" rx="4" ry="2.6" fill="#e3262b"/></g>
<g transform="translate(511.0,504.5)"><rect x="-2.8" y="-16.2" width="5.6" height="14" rx="2.8" fill="#8fd0c8"/>
<ellipse cx="0" cy="0" rx="5.9" ry="3.8" fill="#8fd0c8"/>
<rect x="-0.9" y="-12.2" width="1.8" height="10" fill="#e3262b"/>
<ellipse cx="0" cy="0" rx="4" ry="2.6" fill="#e3262b"/></g>
<g transform="translate(655.0,536.5)"><rect x="-2.8" y="-16.2" width="5.6" height="14" rx="2.8" fill="#8fd0c8"/>
<ellipse cx="0" cy="0" rx="5.9" ry="3.8" fill="#8fd0c8"/>
<rect x="-0.9" y="-12.2" width="1.8" height="10" fill="#e3262b"/>
<ellipse cx="0" cy="0" rx="4" ry="2.6" fill="#e3262b"/></g>
<g transform="translate(708.8,551.5)"><rect x="-2.8" y="-16.2" width="5.6" height="14" rx="2.8" fill="#8fd0c8"/>
<ellipse cx="0" cy="0" rx="5.9" ry="3.8" fill="#8fd0c8"/>
<rect x="-0.9" y="-12.2" width="1.8" height="10" fill="#e3262b"/>
<ellipse cx="0" cy="0" rx="4" ry="2.6" fill="#e3262b"/></g>
<g transform="translate(873.0,640.0)"><rect x="-2.8" y="-16.2" width="5.6" height="14" rx="2.8" fill="#8fd0c8"/>
<ellipse cx="0" cy="0" rx="5.9" ry="3.8" fill="#8fd0c8"/>
<rect x="-0.9" y="-12.2" width="1.8" height="10" fill="#e3262b"/>
<ellipse cx="0" cy="0" rx="4" ry="2.6" fill="#e3262b"/></g>
<g transform="translate(392.6,247.5)"><circle cx="22" cy="-10.2" r="7.4" fill="#0c369a"/>
<circle cx="28.6" cy="-4.3" r="4.3" fill="#0c369a"/>
<rect x="18" y="-8.6" width="11" height="8.6" fill="#0c369a"/>
<circle cx="7.6" cy="-8.6" r="4.4" fill="#0c369a"/>
<circle cx="14.6" cy="-9.6" r="5.6" fill="#0c369a"/>
<rect x="0" y="-8.4" width="22" height="8.4" rx="4.2" fill="#0c369a"/>
<path d="M4.6,-8.8a3.6,3.6 0 0 1 6,-2.6M17.5,-14.5a6,6 0 0 1 5.8,6.6" fill="none" stroke="#7fc060" stroke-width="0.6"/></g>
<path d="M409.1,245.0 l-2,3.6 l1.8,0 l-1.4,3.6 l3.6,-4.8 l-1.8,0 l1.4,-2.4 z" fill="#f5b000"/>
<g transform="translate(402.5,254.7)" stroke="#0c369a"><path d="M0,-4v8M-3.46,-2l6.92,4M-3.46,2l6.92,-4M-1.3,-3.4l1.3,1l1.3,-1M-1.3,3.4l1.3,-1l1.3,1" stroke-width="0.85" fill="none"/></g>
<g transform="translate(415.5,254.9)" stroke="#6f9ef0"><path d="M0,-4v8M-3.46,-2l6.92,4M-3.46,2l6.92,-4M-1.3,-3.4l1.3,1l1.3,-1M-1.3,3.4l1.3,-1l1.3,1" stroke-width="0.85" fill="none"/></g>
<g transform="translate(661.9,388.6)"><circle cx="22" cy="-10.2" r="7.4" fill="#0c369a"/>
<circle cx="28.6" cy="-4.3" r="4.3" fill="#0c369a"/>
<rect x="18" y="-8.6" width="11" height="8.6" fill="#0c369a"/>
<circle cx="7.6" cy="-8.6" r="4.4" fill="#0c369a"/>
<circle cx="14.6" cy="-9.6" r="5.6" fill="#0c369a"/>
<rect x="0" y="-8.4" width="22" height="8.4" rx="4.2" fill="#0c369a"/>
<path d="M4.6,-8.8a3.6,3.6 0 0 1 6,-2.6M17.5,-14.5a6,6 0 0 1 5.8,6.6" fill="none" stroke="#7fc060" stroke-width="0.6"/></g>
<rect x="667.7" y="391.2" width="8.2" height="9" fill="#fff"/>
<g transform="translate(671.8,395.8)" stroke="#0c369a"><path d="M0,-4v8M-3.46,-2l6.92,4M-3.46,2l6.92,-4M-1.3,-3.4l1.3,1l1.3,-1M-1.3,3.4l1.3,-1l1.3,1" stroke-width="0.85" fill="none"/></g>
<g transform="translate(684.8,396.0)" stroke="#6f9ef0"><path d="M0,-4v8M-3.46,-2l6.92,4M-3.46,2l6.92,-4M-1.3,-3.4l1.3,1l1.3,-1M-1.3,3.4l1.3,-1l1.3,1" stroke-width="0.85" fill="none"/></g>
<g transform="translate(1106.3,548.5)"><circle cx="22" cy="-10.2" r="7.4" fill="#0c369a"/>
<circle cx="28.6" cy="-4.3" r="4.3" fill="#0c369a"/>
<rect x="18" y="-8.6" width="11" height="8.6" fill="#0c369a"/>
<circle cx="7.6" cy="-8.6" r="4.4" fill="#0c369a"/>
<circle cx="14.6" cy="-9.6" r="5.6" fill="#0c369a"/>
<rect x="0" y="-8.4" width="22" height="8.4" rx="4.2" fill="#0c369a"/>
<path d="M4.6,-8.8a3.6,3.6 0 0 1 6,-2.6M17.5,-14.5a6,6 0 0 1 5.8,6.6" fill="none" stroke="#7fc060" stroke-width="0.6"/></g>
<rect x="1112.1" y="551.1" width="8.2" height="9" fill="#fff"/>
<g transform="translate(1116.2,555.7)" stroke="#0c369a"><path d="M0,-4v8M-3.46,-2l6.92,4M-3.46,2l6.92,-4M-1.3,-3.4l1.3,1l1.3,-1M-1.3,3.4l1.3,-1l1.3,1" stroke-width="0.85" fill="none"/></g>
<g transform="translate(1129.2,555.9)" stroke="#6f9ef0"><path d="M0,-4v8M-3.46,-2l6.92,4M-3.46,2l6.92,-4M-1.3,-3.4l1.3,1l1.3,-1M-1.3,3.4l1.3,-1l1.3,1" stroke-width="0.85" fill="none"/></g>
<g id="emblem">
<path d="M1087,186 Q1145,228 1202,186" fill="none" stroke="#c8102e" stroke-width="8.5"/>
<path d="M1081,181 l13,-3 l1,10 z M1208,181 l-13,-3 l-1,10 z" fill="#d0142c"/>
<path id="ribp" d="M1088,188.5 Q1145,230 1201,188.5" fill="none"/>
<text font-family="Noto Sans Devanagari,sans-serif" font-size="5.6" font-weight="bold" fill="#fff" text-anchor="middle"><textPath href="#ribp" startOffset="50%">जननी जन्मभूमिश्च स्वर्गादपि गरीयसी</textPath></text>
<path d="M1108,189 Q1145,177 1182,189 Q1145,207 1108,189 z" fill="#c6b12c"/>
<g stroke="#d9822a" stroke-width="1.3" fill="none"><path d="M1112,183 q14,10 30,12 M1178,183 q-14,10 -30,12"/></g>
<path d="M1104,146 L1122,137 L1134,131 L1143,125 L1153,127 L1166,136 L1183,146 L1181,157 L1166,157 L1150,155 L1136,151 L1120,150 L1106,152 z" fill="#3a6fd0"/>
<g fill="#fff"><path d="M1130,145 l6,-5 l3,3 l-5,4z M1147,141 l4,-3 l1,3z M1140,131 l6,-3 l1,2 z M1156,150 l7,-4 l6,1 l6,5 l-8,2z M1109,151 l11,-5 l-2,4z M1150,135 l3,-1 l1,2z"/></g>
<path d="M1128,153 L1140,151 L1152,156 L1166,157 L1183,154 L1187,166 L1172,170 L1153,167 L1140,161 L1130,158 z" fill="#2c7c2c"/>
<path d="M1104,158 L1110,163 L1124,171 L1140,177 L1152,182 L1132,184 L1114,179 L1104,170 z" fill="#2c7c2c"/>
<ellipse cx="1147" cy="186.5" rx="17" ry="5" fill="#f3c6b3"/>
<rect x="1126" y="181.5" width="5" height="7" fill="#d8192c"/>
<g fill="#2f8a2f">
<ellipse cx="1126.3" cy="108.4" rx="5" ry="1.8" transform="rotate(-72 1126.3 108.4)"/>
<ellipse cx="1123.7" cy="119.1" rx="5" ry="1.8" transform="rotate(-152 1123.7 119.1)"/>
<ellipse cx="1111.4" cy="114.7" rx="5" ry="1.8" transform="rotate(-91 1111.4 114.7)"/>
<ellipse cx="1112.1" cy="125.7" rx="5" ry="1.8" transform="rotate(-171 1112.1 125.7)"/>
<ellipse cx="1099.2" cy="125.8" rx="5" ry="1.8" transform="rotate(-110 1099.2 125.8)"/>
<ellipse cx="1103.0" cy="136.0" rx="5" ry="1.8" transform="rotate(-190 1103.0 136.0)"/>
<ellipse cx="1092.6" cy="138.3" rx="5" ry="1.8" transform="rotate(-125 1092.6 138.3)"/>
<ellipse cx="1098.8" cy="147.2" rx="5" ry="1.8" transform="rotate(-205 1098.8 147.2)"/>
<ellipse cx="1091.7" cy="154.1" rx="5" ry="1.8" transform="rotate(218 1091.7 154.1)"/>
<ellipse cx="1099.9" cy="160.8" rx="5" ry="1.8" transform="rotate(138 1099.9 160.8)"/>
<ellipse cx="1095.1" cy="170.6" rx="5" ry="1.8" transform="rotate(199 1095.1 170.6)"/>
<ellipse cx="1104.7" cy="174.4" rx="5" ry="1.8" transform="rotate(119 1104.7 174.4)"/>
<ellipse cx="1109.5" cy="185.3" rx="5" ry="1.8" transform="rotate(176 1109.5 185.3)"/>
<ellipse cx="1119.4" cy="185.0" rx="5" ry="1.8" transform="rotate(96 1119.4 185.0)"/>
<ellipse cx="1162.5" cy="107.7" rx="5" ry="1.8" transform="rotate(-27 1162.5 107.7)"/>
<ellipse cx="1153.9" cy="113.8" rx="5" ry="1.8" transform="rotate(-107 1153.9 113.8)"/>
<ellipse cx="1176.6" cy="114.7" rx="5" ry="1.8" transform="rotate(-9 1176.6 114.7)"/>
<ellipse cx="1166.8" cy="117.8" rx="5" ry="1.8" transform="rotate(-89 1166.8 117.8)"/>
<ellipse cx="1188.1" cy="124.9" rx="5" ry="1.8" transform="rotate(8 1188.1 124.9)"/>
<ellipse cx="1178.1" cy="125.0" rx="5" ry="1.8" transform="rotate(-72 1178.1 125.0)"/>
<ellipse cx="1194.5" cy="137.5" rx="5" ry="1.8" transform="rotate(24 1194.5 137.5)"/>
<ellipse cx="1185.2" cy="134.9" rx="5" ry="1.8" transform="rotate(-56 1185.2 134.9)"/>
<ellipse cx="1196.3" cy="153.2" rx="5" ry="1.8" transform="rotate(41 1196.3 153.2)"/>
<ellipse cx="1188.4" cy="148.0" rx="5" ry="1.8" transform="rotate(-39 1188.4 148.0)"/>
<ellipse cx="1193.7" cy="170.5" rx="5" ry="1.8" transform="rotate(60 1193.7 170.5)"/>
<ellipse cx="1188.3" cy="163.1" rx="5" ry="1.8" transform="rotate(-20 1188.3 163.1)"/>
<ellipse cx="1183.2" cy="184.1" rx="5" ry="1.8" transform="rotate(79 1183.2 184.1)"/>
<ellipse cx="1180.8" cy="175.4" rx="5" ry="1.8" transform="rotate(-1 1180.8 175.4)"/>
</g><g fill="#de1620">
<circle cx="1126.3" cy="111.4" r="4.4"/>
<circle cx="1131.5" cy="111.4" r="4.4"/>
<circle cx="1128.9" cy="115.3" r="4.4"/>
<circle cx="1128.9" cy="112.4" r="4.4"/>
<circle cx="1113.4" cy="116.5" r="4.4"/>
<circle cx="1118.6" cy="116.5" r="4.4"/>
<circle cx="1116.0" cy="120.4" r="4.4"/>
<circle cx="1116.0" cy="117.5" r="4.4"/>
<circle cx="1102.6" cy="125.8" r="4.4"/>
<circle cx="1107.8" cy="125.8" r="4.4"/>
<circle cx="1105.2" cy="129.7" r="4.4"/>
<circle cx="1105.2" cy="126.8" r="4.4"/>
<circle cx="1096.8" cy="136.6" r="4.4"/>
<circle cx="1102.0" cy="136.6" r="4.4"/>
<circle cx="1099.4" cy="140.5" r="4.4"/>
<circle cx="1099.4" cy="137.6" r="4.4"/>
<circle cx="1096.1" cy="150.3" r="4.4"/>
<circle cx="1101.3" cy="150.3" r="4.4"/>
<circle cx="1098.7" cy="154.2" r="4.4"/>
<circle cx="1098.7" cy="151.3" r="4.4"/>
<circle cx="1099.0" cy="164.6" r="4.4"/>
<circle cx="1104.2" cy="164.6" r="4.4"/>
<circle cx="1101.6" cy="168.5" r="4.4"/>
<circle cx="1101.6" cy="165.6" r="4.4"/>
<circle cx="1111.9" cy="176.9" r="4.4"/>
<circle cx="1117.1" cy="176.9" r="4.4"/>
<circle cx="1114.5" cy="180.8" r="4.4"/>
<circle cx="1114.5" cy="177.9" r="4.4"/>
<circle cx="1157.2" cy="110.7" r="4.4"/>
<circle cx="1162.4" cy="110.7" r="4.4"/>
<circle cx="1159.8" cy="114.6" r="4.4"/>
<circle cx="1159.8" cy="111.7" r="4.4"/>
<circle cx="1169.4" cy="116.5" r="4.4"/>
<circle cx="1174.6" cy="116.5" r="4.4"/>
<circle cx="1172.0" cy="120.4" r="4.4"/>
<circle cx="1172.0" cy="117.5" r="4.4"/>
<circle cx="1179.5" cy="125.1" r="4.4"/>
<circle cx="1184.7" cy="125.1" r="4.4"/>
<circle cx="1182.1" cy="129.0" r="4.4"/>
<circle cx="1182.1" cy="126.1" r="4.4"/>
<circle cx="1185.2" cy="135.9" r="4.4"/>
<circle cx="1190.4" cy="135.9" r="4.4"/>
<circle cx="1187.8" cy="139.8" r="4.4"/>
<circle cx="1187.8" cy="136.9" r="4.4"/>
<circle cx="1186.7" cy="149.5" r="4.4"/>
<circle cx="1191.9" cy="149.5" r="4.4"/>
<circle cx="1189.3" cy="153.4" r="4.4"/>
<circle cx="1189.3" cy="150.5" r="4.4"/>
<circle cx="1184.5" cy="164.6" r="4.4"/>
<circle cx="1189.7" cy="164.6" r="4.4"/>
<circle cx="1187.1" cy="168.5" r="4.4"/>
<circle cx="1187.1" cy="165.6" r="4.4"/>
<circle cx="1175.2" cy="176.2" r="4.4"/>
<circle cx="1180.4" cy="176.2" r="4.4"/>
<circle cx="1177.8" cy="180.1" r="4.4"/>
<circle cx="1177.8" cy="177.2" r="4.4"/>
</g>
<path d="M1138.5,107 L1149.5,114.5 L1142.5,114.5 L1149.5,121.5 L1138.5,121.5 z" fill="#d8182a" stroke="#1f3c9a" stroke-width="1"/>
</g>
<text x="1077" y="228.6" class="em" font-size="12.5" font-weight="600" textLength="141" lengthAdjust="spacing">जल तथा मौसम विज्ञान विभाग</text>
<text x="1068" y="246" class="em" font-size="17.5" font-weight="400" textLength="161" lengthAdjust="spacing">मौसम पूर्वानुमान महाशाखा</text>
<rect x="51.5" y="622.4" width="70.7" height="33.9" fill="#ff0000"/>
<rect x="51.5" y="656.3" width="70.7" height="34.0" fill="#ff9900"/>
<rect x="51.5" y="690.3" width="70.7" height="33.3" fill="#ffff00"/>
<rect x="51.5" y="723.6" width="70.7" height="33.6" fill="#00ac4e"/>
<rect x="51.2" y="622.4" width="270.5" height="134.9" fill="none" stroke="#c3c3c3" stroke-width="1.2"/>
<line x1="51.2" y1="656.3" x2="321.7" y2="656.3" stroke="#c3c3c3" stroke-width="1.2"/>
<line x1="51.2" y1="690.3" x2="321.7" y2="690.3" stroke="#c3c3c3" stroke-width="1.2"/>
<line x1="51.2" y1="723.6" x2="321.7" y2="723.6" stroke="#c3c3c3" stroke-width="1.2"/>
<line x1="122.3" y1="622.4" x2="122.3" y2="757.3" stroke="#c3c3c3" stroke-width="1.2"/>
<text x="130.3" y="644.2" class="l1" textLength="161.5" lengthAdjust="spacing"><tspan class="d">प्रतिकार्य गर्ने </tspan>(Take action)</text>
<text x="130.3" y="677.4" class="l1" textLength="150.8" lengthAdjust="spacing"><tspan class="d">सतर्क हुने </tspan>(Be prepared)</text>
<text x="130.3" y="711.0" class="l1" textLength="180.0" lengthAdjust="spacing"><tspan class="d">अध्यावधिक हुने </tspan>(Be updated)</text>
<text x="130.3" y="743.3" class="l1" textLength="161.5" lengthAdjust="spacing"><tspan class="d">चेतावनी छैन </tspan>(No warning)</text>
<text x="112.9" y="604.9" class="l1" style="font-size:15px" textLength="104" lengthAdjust="spacing">Symbol (<tspan class="d" style="font-weight:normal;font-size:17.5px">संकेत</tspan>)</text>
<rect x="323.7" y="643.6" width="162.1" height="114" fill="none" stroke="#c3c3c3" stroke-width="1.2"/>
<line x1="323.7" y1="672.1" x2="485.8" y2="672.1" stroke="#c3c3c3" stroke-width="1.2"/>
<line x1="323.7" y1="700.3" x2="485.8" y2="700.3" stroke="#c3c3c3" stroke-width="1.2"/>
<line x1="323.7" y1="729.3" x2="485.8" y2="729.3" stroke="#c3c3c3" stroke-width="1.2"/>
<line x1="377.5" y1="643.6" x2="377.5" y2="757.6" stroke="#c3c3c3" stroke-width="1.2"/>
<text x="384.8" y="661.8" class="l2" textLength="50.5" lengthAdjust="spacing">Rain/ <tspan class="d">वर्षा</tspan></text>
<text x="384.8" y="689.8" class="l2" textLength="75.3" lengthAdjust="spacing">Snow/ <tspan class="d">हिमपात</tspan></text>
<text x="384.8" y="718.0" class="l2" textLength="51.7" lengthAdjust="spacing">Mist/ <tspan class="d">हुस्सु</tspan></text>
<text x="384.8" y="746.8" class="l2" textLength="58.8" lengthAdjust="spacing">Fog/ <tspan class="d">कुहिरो</tspan></text>
<rect x="487.6" y="671.6" width="173.2" height="85.2" fill="none" stroke="#c3c3c3" stroke-width="1.2"/>
<line x1="487.6" y1="700.5" x2="660.8" y2="700.5" stroke="#c3c3c3" stroke-width="1.2"/>
<line x1="487.6" y1="728.6" x2="660.8" y2="728.6" stroke="#c3c3c3" stroke-width="1.2"/>
<line x1="522.1" y1="671.6" x2="522.1" y2="756.8" stroke="#c3c3c3" stroke-width="1.2"/>
<text x="529" y="689.5" class="l2" textLength="112.5" lengthAdjust="spacing">Heat wave/ <tspan class="d">तातो लहर</tspan></text>
<text x="529" y="717.2" class="l2" textLength="108.3" lengthAdjust="spacing">Cold wave/ <tspan class="d">शीतलहर</tspan></text>
<text x="529" y="745.5" class="l2" textLength="84.8" lengthAdjust="spacing">Windy (<tspan class="d">हावाहुरी</tspan>)</text>
<g transform="translate(358.6,658)">
<path d="M-9,2.5 a3.6,3.6 0 0 1 1.5,-6.8 a5,5 0 0 1 8.5,-3 a4.5,4.5 0 0 1 7.5,3.5 a3.2,3.2 0 0 1 0.5,6.3 z" fill="#e2e2e2" stroke="#555" stroke-width="1"/>
<g fill="#2ea3e8"><circle cx="-6" cy="5.5" r="1.5"/><circle cx="-2.5" cy="7.5" r="1.5"/><circle cx="1" cy="5.5" r="1.5"/><circle cx="4" cy="7.5" r="1.5"/><circle cx="7" cy="5.5" r="1.5"/></g>
</g>
<g transform="translate(359,684)">
<path d="M-9,3 a3.6,3.6 0 0 1 1,-6.5 a4.6,4.6 0 0 1 8,-2.6 a5,5 0 0 1 9,3.2 a3.2,3.2 0 0 1 0.8,5.9 z" fill="#0c369a"/>
<path d="M-3,5.5v3.5M-4.5,7.2h3M3,5.5v3.5M1.5,7.2h3" stroke="#33559f" stroke-width="0.8"/>
</g>
<g stroke="#8a8a8a" stroke-width="0.9"><path d="M345.5,713.2h25M345.5,715.9h28M345.5,718.5h21" stroke-dasharray="4.5,1.5"/></g>
<g stroke="#2a2a2a" stroke-width="1"><path d="M345.5,735.3h26.5M345.5,738.1h26.5M345.5,741.2h26.5"/></g>
<g><rect x="495.4" y="675.8" width="6" height="17.0" rx="3" fill="#e8e8e8" stroke="#7a7a7a" stroke-width="0.8"/><circle cx="498.4" cy="692.8" r="5" fill="#e8e8e8" stroke="#7a7a7a" stroke-width="0.8"/><rect x="497.4" y="678.8" width="2" height="14.0" fill="#d8262a"/><circle cx="498.4" cy="692.8" r="3.5" fill="#d8262a"/></g>
<g fill="none" stroke="#f04a4a" stroke-width="0.9"><path d="M506,682.5q2,-1.5 4,0t4,0t4,0M506,686q2,-1.5 4,0t4,0t4,0M506,689.5q2,-1.5 4,0t4,0t4,0"/></g>
<g><rect x="496.0" y="705.8" width="6" height="14.7" rx="3" fill="#e8e8e8" stroke="#7a7a7a" stroke-width="0.8"/><circle cx="499.0" cy="720.5" r="5" fill="#e8e8e8" stroke="#7a7a7a" stroke-width="0.8"/><rect x="498.0" y="708.8" width="2" height="11.7" fill="#2f9ee0"/><circle cx="499.0" cy="720.5" r="3.5" fill="#2f9ee0"/></g>
<g fill="none" stroke="#46c3f0" stroke-width="0.9"><path d="M506,711.5q2,-1.5 4,0t4,0t3,0M506,715q2,-1.5 4,0t4,0t3,0M506,718.5q2,-1.5 4,0t4,0t3,0"/></g>
<g fill="none" stroke="#222" stroke-width="0.9"><path d="M494,742.5h13a3,3 0 1 0 -2,-5M495,745.5h16a2.5,2.5 0 1 1 -1,4.5M496,748.5h9a2.5,2.5 0 1 1 -3,3.5M493.5,744h7"/></g>
</svg>
</body></html>
